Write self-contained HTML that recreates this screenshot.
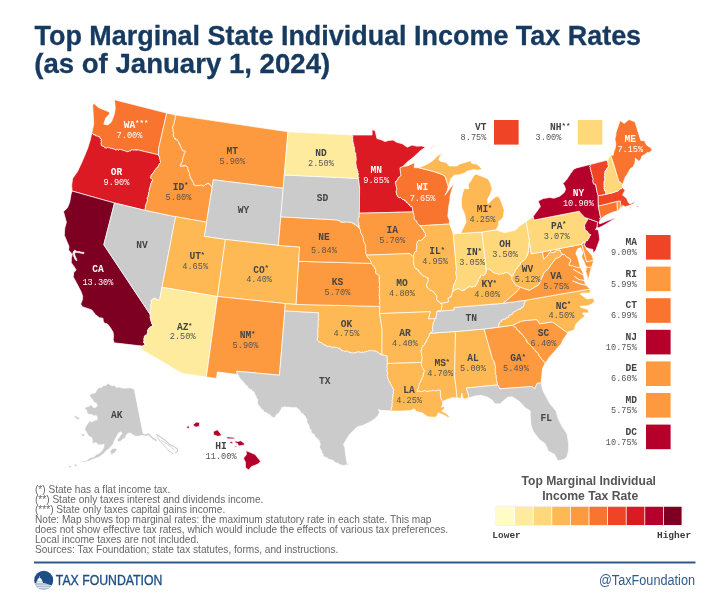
<!DOCTYPE html>
<html><head><meta charset="utf-8">
<style>
html,body{margin:0;padding:0;background:#fff;}
body{width:720px;height:600px;overflow:hidden;position:relative;font-family:"Liberation Sans",sans-serif;}
svg{position:absolute;left:0;top:0;will-change:transform;}
.ab{font-family:"Liberation Mono",monospace;font-weight:bold;font-size:9.6px;}
.rt{font-family:"Liberation Mono",monospace;font-size:8.6px;}
.st{font-family:"Liberation Mono",monospace;font-weight:bold;font-size:7.5px;}
.title{font-family:"Liberation Sans",sans-serif;font-weight:bold;font-size:28px;fill:#163a60;stroke:#163a60;stroke-width:0.3px;}
.note{font-family:"Liberation Sans",sans-serif;font-size:10.1px;fill:#666666;}
.lt{font-family:"Liberation Sans",sans-serif;font-weight:bold;font-size:13.6px;fill:#555555;}
.lh{font-family:"Liberation Mono",monospace;font-weight:bold;font-size:9.5px;fill:#3b3b3b;}
</style></head><body>
<svg width="720" height="600" viewBox="0 0 720 600">
<text class="title" x="34.5" y="45.0" textLength="606.6" lengthAdjust="spacingAndGlyphs">Top Marginal State Individual Income Tax Rates</text>
<text class="title" x="34.2" y="72.8" textLength="296" lengthAdjust="spacingAndGlyphs">(as of January 1, 2024)</text>
<g stroke="#fff" stroke-width="0.7" stroke-linejoin="round">
<path d="M114.2,99.7 166.7,113.1 158.6,148.7 158.5,154.8 138.4,150.1 137.9,149.6 137.2,150.5 136.6,149.6 135.9,150.6 135.4,149.4 134.8,149.5 134.1,150.5 133.5,150.0 133.0,149.6 132.3,150.0 131.6,149.7 131.0,150.5 130.4,151.2 129.7,150.6 129.1,151.4 128.4,151.5 127.8,151.8 127.2,151.5 126.5,151.8 126.1,151.1 125.5,151.1 124.9,150.9 124.3,150.6 123.7,150.7 123.2,150.4 122.6,150.2 122.2,149.6 121.5,149.9 120.9,149.6 120.3,149.5 119.7,149.3 119.0,150.0 118.3,150.4 117.8,149.5 117.1,149.5 116.5,149.9 115.8,150.1 115.2,149.8 114.8,149.1 114.1,149.4 113.5,149.1 113.0,148.5 112.2,148.9 111.7,148.3 110.9,148.7 110.3,148.5 109.9,147.6 109.3,147.6 108.7,147.8 108.1,147.4 107.5,147.4 106.8,147.8 106.2,148.2 105.6,148.0 104.8,148.1 104.4,147.3 103.9,147.0 103.5,146.2 102.8,146.1 102.0,146.3 101.6,145.5 101.1,145.2 101.0,144.4 100.9,143.6 100.9,142.8 101.6,141.8 100.8,141.1 101.0,140.3 101.3,139.4 100.7,138.9 100.0,138.5 99.8,137.4 99.5,136.6 98.8,136.7 98.1,136.8 97.7,136.1 97.2,135.9 96.5,136.0 96.0,135.6 95.3,135.8 95.1,134.6 94.4,134.9 93.7,135.0 93.4,134.1 92.8,133.9 92.3,133.6 91.7,133.5 92.7,128.6 93.7,124.2 93.3,115.8 92.6,105.4 93.7,103.3 98.9,107.8 104.4,109.9 109.3,112.0 109.7,113.7 105.8,117.9 103.8,124.2 107.9,124.9 111.4,122.1 114.2,114.4 115.2,108.9 114.9,103.3 114.2,99.7Z" fill="#f9742f"/>
<path d="M72.0,191.0 71.7,184.9 72.6,178.5 77.4,171.7 80.5,165.2 84.0,157.3 87.8,148.0 90.1,140.5 91.7,133.5 92.3,133.6 92.8,133.9 93.4,134.1 93.7,135.0 94.4,134.9 95.1,134.6 95.3,135.8 96.0,135.6 96.5,136.0 97.2,135.9 97.7,136.1 98.1,136.8 98.8,136.7 99.5,136.6 99.8,137.4 100.0,138.5 100.7,138.9 101.3,139.4 101.0,140.3 100.8,141.1 101.6,141.8 100.9,142.8 100.9,143.6 101.0,144.4 101.1,145.2 101.6,145.5 102.0,146.3 102.8,146.1 103.5,146.2 103.9,147.0 104.4,147.3 104.8,148.1 105.6,148.0 106.2,148.2 106.8,147.8 107.5,147.4 108.1,147.4 108.7,147.8 109.3,147.6 109.9,147.6 110.3,148.5 110.9,148.7 111.7,148.3 112.2,148.9 113.0,148.5 113.5,149.1 114.1,149.4 114.8,149.1 115.2,149.8 115.8,150.1 116.5,149.9 117.1,149.5 117.8,149.5 118.3,150.4 119.0,150.0 119.7,149.3 120.3,149.5 120.9,149.6 121.5,149.9 122.2,149.6 122.6,150.2 123.2,150.4 123.7,150.7 124.3,150.6 124.9,150.9 125.5,151.1 126.1,151.1 126.5,151.8 127.2,151.5 127.8,151.8 128.4,151.5 129.1,151.4 129.7,150.6 130.4,151.2 131.0,150.5 131.6,149.7 132.3,150.0 133.0,149.6 133.5,150.0 134.1,150.5 134.8,149.5 135.4,149.4 135.9,150.6 136.6,149.6 137.2,150.5 137.9,149.6 138.4,150.1 158.5,154.8 158.5,155.8 159.4,156.1 159.4,157.2 160.0,157.8 159.5,159.1 160.2,159.7 160.3,160.7 160.3,161.7 160.5,162.5 159.9,163.1 159.4,163.9 159.0,164.7 158.5,165.5 158.1,166.4 157.9,167.4 157.2,167.7 156.4,168.0 156.1,168.8 155.5,169.4 155.0,170.0 154.5,170.6 154.2,171.5 153.8,172.2 153.2,172.6 152.9,173.5 152.1,173.9 151.7,174.6 151.2,175.3 151.1,176.2 150.6,176.9 150.4,177.8 151.0,178.2 151.7,178.5 152.2,179.1 152.6,179.8 152.6,180.8 151.6,181.2 152.0,182.5 151.1,183.0 150.8,183.8 150.6,184.8 150.7,185.7 150.3,186.5 150.0,187.3 149.6,188.1 149.8,189.0 149.1,189.8 149.5,190.8 149.3,191.6 148.5,192.3 148.6,193.2 148.7,194.2 148.5,195.0 148.1,195.8 148.3,196.8 147.4,197.4 147.2,198.3 147.4,199.2 147.6,200.2 147.3,201.0 147.1,201.9 146.7,202.7 146.4,203.5 146.0,204.3 145.8,205.2 145.6,206.0 145.3,206.8 145.7,207.8 144.9,208.5 145.3,209.5 144.9,210.3 114.5,203.0 72.0,191.0Z" fill="#dc1a23"/>
<path d="M114.0,342.8 113.2,339.4 113.6,335.8 113.0,332.0 110.4,327.7 107.6,324.1 104.2,323.0 103.3,320.9 103.0,318.2 99.5,317.7 95.4,314.5 91.8,309.9 82.4,306.7 80.7,304.1 82.3,300.0 82.7,296.4 81.0,291.5 77.9,285.5 73.2,276.7 73.8,272.4 76.2,270.1 74.6,267.4 71.3,262.7 71.4,258.3 72.3,254.3 68.6,250.0 69.0,246.4 64.3,235.2 64.8,227.9 66.4,222.3 65.1,217.4 63.5,211.7 67.5,207.7 69.7,202.3 71.0,194.5 72.0,191.0 114.5,203.0 103.8,244.7 150.0,314.2 150.2,315.2 150.4,316.1 150.1,317.2 150.4,318.1 150.4,319.1 150.9,319.9 150.9,320.9 151.3,321.7 151.6,322.6 151.7,323.7 152.9,323.9 152.8,325.3 153.6,325.6 152.7,325.6 151.9,325.9 151.4,327.2 150.4,326.8 149.7,327.6 149.5,328.6 148.4,328.7 148.1,329.5 147.5,330.4 147.7,331.4 147.8,332.4 147.3,333.3 147.5,334.2 146.9,335.1 145.9,335.1 145.0,335.5 144.4,336.5 144.3,337.5 144.0,338.5 143.8,339.5 144.2,340.6 143.7,341.5 143.7,342.6 144.1,343.2 145.0,343.4 145.5,344.1 145.8,344.9 144.9,344.7 144.1,345.1 143.3,345.6 142.5,346.1 114.0,342.8Z" fill="#7d0023"/>
<path d="M114.5,203.0 144.9,210.3 175.6,216.7 162.0,287.3 159.8,298.7 159.1,299.7 158.3,300.5 157.6,300.2 157.2,299.4 156.3,299.8 155.8,299.2 155.5,298.1 154.6,298.3 153.8,298.3 153.2,299.3 152.4,299.4 151.6,299.9 151.1,300.8 151.2,301.8 151.7,302.8 151.4,303.7 150.6,304.6 150.8,305.6 150.6,306.5 151.0,307.4 150.4,308.3 150.4,309.2 150.3,310.1 150.4,311.0 150.4,311.9 150.0,312.8 150.0,314.2 103.8,244.7 114.5,203.0Z" fill="#cbcbcb"/>
<path d="M166.7,113.1 175.8,115.1 175.6,115.9 175.2,116.7 175.5,117.7 175.1,118.4 175.3,119.3 174.6,120.1 174.8,121.0 174.3,121.7 174.4,122.6 174.0,123.4 174.0,124.3 173.3,125.0 173.3,125.8 172.9,126.6 172.8,127.5 173.1,128.4 172.8,129.2 173.3,129.8 173.1,130.8 173.2,131.7 173.7,132.3 173.8,133.2 173.2,134.5 173.5,135.2 173.7,136.0 173.7,137.0 174.3,137.6 174.5,138.5 175.5,138.1 175.5,139.5 176.1,139.7 176.9,139.7 177.5,139.8 177.8,140.8 178.2,141.4 178.8,141.8 179.0,142.7 178.9,143.9 179.9,143.9 180.1,144.7 180.2,145.6 180.6,146.4 181.1,146.9 181.1,148.0 181.8,148.2 181.7,149.4 182.4,149.8 182.8,150.5 183.3,151.2 184.2,150.3 184.7,151.1 185.4,151.2 185.5,152.2 184.8,152.8 184.1,153.4 184.1,154.4 184.0,155.4 183.6,156.2 183.3,157.0 182.8,157.7 183.2,158.6 182.3,159.5 182.5,160.3 182.5,161.2 182.5,162.0 181.9,162.7 181.2,163.2 181.4,164.7 180.3,164.8 180.1,165.9 180.7,166.2 181.4,166.0 182.0,166.0 182.6,166.1 183.4,165.2 183.9,166.3 184.6,165.1 185.3,165.0 185.9,165.6 186.2,166.5 187.1,166.5 187.6,167.3 187.9,168.0 187.7,169.0 187.8,169.9 188.7,170.2 188.4,171.3 189.0,171.8 189.4,172.4 189.4,173.4 189.6,174.2 189.7,175.0 189.9,175.8 190.3,176.5 190.3,177.5 190.6,178.2 191.3,178.5 191.6,179.4 191.7,180.2 192.6,180.4 192.9,181.2 193.0,182.1 193.2,182.9 193.8,183.5 193.7,184.5 194.0,185.2 194.7,184.9 195.3,185.3 195.9,185.7 196.6,185.4 197.2,185.9 198.0,185.2 198.6,185.3 199.2,185.9 199.9,184.9 200.5,185.0 201.1,185.1 201.8,184.9 202.4,185.2 202.9,186.0 203.5,186.1 204.2,185.5 204.8,185.2 205.4,184.5 206.0,184.5 206.7,184.2 207.1,183.2 208.0,184.0 208.4,183.0 209.1,183.3 209.2,184.3 209.8,184.6 210.5,184.8 210.6,185.9 211.3,186.0 211.7,186.6 212.2,187.1 206.6,222.2 175.6,216.7 144.9,210.3 145.3,209.5 144.9,208.5 145.7,207.8 145.3,206.8 145.6,206.0 145.8,205.2 146.0,204.3 146.4,203.5 146.7,202.7 147.1,201.9 147.3,201.0 147.6,200.2 147.4,199.2 147.2,198.3 147.4,197.4 148.3,196.8 148.1,195.8 148.5,195.0 148.7,194.2 148.6,193.2 148.5,192.3 149.3,191.6 149.5,190.8 149.1,189.8 149.8,189.0 149.6,188.1 150.0,187.3 150.3,186.5 150.7,185.7 150.6,184.8 150.8,183.8 151.1,183.0 152.0,182.5 151.6,181.2 152.6,180.8 152.6,179.8 152.2,179.1 151.7,178.5 151.0,178.2 150.4,177.8 150.6,176.9 151.1,176.2 151.2,175.3 151.7,174.6 152.1,173.9 152.9,173.5 153.2,172.6 153.8,172.2 154.2,171.5 154.5,170.6 155.0,170.0 155.5,169.4 156.1,168.8 156.4,168.0 157.2,167.7 157.9,167.4 158.1,166.4 158.5,165.5 159.0,164.7 159.4,163.9 159.9,163.1 160.5,162.5 160.3,161.7 160.3,160.7 160.2,159.7 159.5,159.1 160.0,157.8 159.4,157.2 159.4,156.1 158.5,155.8 158.5,154.8 158.6,148.7 166.7,113.1Z" fill="#fd9a3f"/>
<path d="M175.8,115.1 288.0,131.8 284.3,175.0 283.2,188.3 213.3,179.8 212.2,187.1 211.7,186.6 211.3,186.0 210.6,185.9 210.5,184.8 209.8,184.6 209.2,184.3 209.1,183.3 208.4,183.0 208.0,184.0 207.1,183.2 206.7,184.2 206.0,184.5 205.4,184.5 204.8,185.2 204.2,185.5 203.5,186.1 202.9,186.0 202.4,185.2 201.8,184.9 201.1,185.1 200.5,185.0 199.9,184.9 199.2,185.9 198.6,185.3 198.0,185.2 197.2,185.9 196.6,185.4 195.9,185.7 195.3,185.3 194.7,184.9 194.0,185.2 193.7,184.5 193.8,183.5 193.2,182.9 193.0,182.1 192.9,181.2 192.6,180.4 191.7,180.2 191.6,179.4 191.3,178.5 190.6,178.2 190.3,177.5 190.3,176.5 189.9,175.8 189.7,175.0 189.6,174.2 189.4,173.4 189.4,172.4 189.0,171.8 188.4,171.3 188.7,170.2 187.8,169.9 187.7,169.0 187.9,168.0 187.6,167.3 187.1,166.5 186.2,166.5 185.9,165.6 185.3,165.0 184.6,165.1 183.9,166.3 183.4,165.2 182.6,166.1 182.0,166.0 181.4,166.0 180.7,166.2 180.1,165.9 180.3,164.8 181.4,164.7 181.2,163.2 181.9,162.7 182.5,162.0 182.5,161.2 182.5,160.3 182.3,159.5 183.2,158.6 182.8,157.7 183.3,157.0 183.6,156.2 184.0,155.4 184.1,154.4 184.1,153.4 184.8,152.8 185.5,152.2 185.4,151.2 184.7,151.1 184.2,150.3 183.3,151.2 182.8,150.5 182.4,149.8 181.7,149.4 181.8,148.2 181.1,148.0 181.1,146.9 180.6,146.4 180.2,145.6 180.1,144.7 179.9,143.9 178.9,143.9 179.0,142.7 178.8,141.8 178.2,141.4 177.8,140.8 177.5,139.8 176.9,139.7 176.1,139.7 175.5,139.5 175.5,138.1 174.5,138.5 174.3,137.6 173.7,137.0 173.7,136.0 173.5,135.2 173.2,134.5 173.8,133.2 173.7,132.3 173.2,131.7 173.1,130.8 173.3,129.8 172.8,129.2 173.1,128.4 172.8,127.5 172.9,126.6 173.3,125.8 173.3,125.0 174.0,124.3 174.0,123.4 174.4,122.6 174.3,121.7 174.8,121.0 174.6,120.1 175.3,119.3 175.1,118.4 175.5,117.7 175.2,116.7 175.6,115.9 175.8,115.1Z" fill="#fd9a3f"/>
<path d="M212.2,187.1 213.3,179.8 283.2,188.3 280.8,216.8 278.4,245.4 225.4,239.5 204.3,236.4 206.6,222.2 212.2,187.1Z" fill="#cbcbcb"/>
<path d="M175.6,216.7 206.6,222.2 204.3,236.4 225.4,239.5 217.5,296.5 162.0,287.3 175.6,216.7Z" fill="#feb954"/>
<path d="M162.0,287.3 217.5,296.5 206.4,377.0 182.2,373.4 140.8,349.1 142.5,346.1 143.3,345.6 144.1,345.1 144.9,344.7 145.8,344.9 145.5,344.1 145.0,343.4 144.1,343.2 143.7,342.6 143.7,341.5 144.2,340.6 143.8,339.5 144.0,338.5 144.3,337.5 144.4,336.5 145.0,335.5 145.9,335.1 146.9,335.1 147.5,334.2 147.3,333.3 147.8,332.4 147.7,331.4 147.5,330.4 148.1,329.5 148.4,328.7 149.5,328.6 149.7,327.6 150.4,326.8 151.4,327.2 151.9,325.9 152.7,325.6 153.6,325.6 152.8,325.3 152.9,323.9 151.7,323.7 151.6,322.6 151.3,321.7 150.9,320.9 150.9,319.9 150.4,319.1 150.4,318.1 150.1,317.2 150.4,316.1 150.2,315.2 150.0,314.2 150.0,312.8 150.4,311.9 150.4,311.0 150.3,310.1 150.4,309.2 150.4,308.3 151.0,307.4 150.6,306.5 150.8,305.6 150.6,304.6 151.4,303.7 151.7,302.8 151.2,301.8 151.1,300.8 151.6,299.9 152.4,299.4 153.2,299.3 153.8,298.3 154.6,298.3 155.5,298.1 155.8,299.2 156.3,299.8 157.2,299.4 157.6,300.2 158.3,300.5 159.1,299.7 159.8,298.7 162.0,287.3Z" fill="#feeb9e"/>
<path d="M225.4,239.5 278.4,245.4 299.6,247.0 298.7,261.3 296.1,304.4 285.3,303.6 217.5,296.5 225.4,239.5Z" fill="#feb954"/>
<path d="M217.5,296.5 285.3,303.6 284.8,310.8 279.5,375.2 236.7,371.2 237.4,374.4 217.3,372.0 216.5,378.4 206.4,377.0 217.5,296.5Z" fill="#fd9a3f"/>
<path d="M237.4,374.4 236.7,371.2 279.5,375.2 284.8,310.8 318.7,312.8 318.4,313.6 318.6,314.5 318.8,315.4 318.6,316.2 318.1,317.1 318.6,318.0 318.9,318.9 318.7,319.7 318.2,320.6 318.6,321.5 318.0,322.3 318.1,323.2 318.6,324.1 317.8,324.9 318.6,325.8 318.2,326.7 318.3,327.6 317.6,328.4 317.7,329.3 318.3,330.2 317.7,331.0 317.9,331.9 317.8,332.8 317.7,333.7 318.2,334.5 317.6,335.4 318.2,336.3 317.8,337.1 318.0,338.0 317.2,338.9 317.3,339.7 317.6,340.6 318.2,341.0 318.7,341.7 319.5,341.8 320.0,342.5 320.9,342.4 321.6,342.6 322.1,343.4 322.7,343.8 323.4,344.1 324.1,344.5 324.6,345.0 325.5,344.7 325.9,345.7 326.7,345.8 327.4,346.2 328.1,346.7 329.0,345.7 329.6,346.4 330.4,346.0 331.1,346.8 331.8,347.3 332.6,347.3 333.4,346.9 334.1,347.1 334.8,347.1 335.6,347.5 336.3,347.7 337.2,347.3 337.9,348.1 338.6,348.4 339.5,347.9 340.1,348.6 340.6,349.5 341.2,350.1 342.0,350.0 342.7,351.0 343.6,350.5 344.3,351.1 345.0,351.4 345.9,350.9 346.8,350.9 347.6,350.8 348.4,351.5 349.1,352.4 350.0,352.1 350.8,352.1 351.4,353.0 352.3,352.4 352.9,353.2 353.6,353.1 354.2,352.4 355.0,352.7 355.7,352.6 356.4,352.3 357.0,351.8 357.7,351.6 358.4,352.1 359.2,351.3 359.8,352.2 360.5,352.3 361.2,352.4 362.0,352.1 362.7,351.7 363.4,352.5 364.1,352.1 364.8,351.5 365.6,351.7 366.3,351.1 367.1,351.3 367.9,351.3 368.5,350.6 369.4,350.6 370.1,350.3 370.8,351.1 371.5,350.5 372.2,350.5 372.9,350.7 373.7,350.7 374.4,351.4 375.1,350.3 375.8,351.0 376.4,351.7 377.4,351.4 377.7,352.6 378.5,352.7 379.1,353.4 379.8,353.7 380.7,353.5 381.1,354.7 382.0,354.7 387.2,355.9 387.3,363.5 387.3,364.3 387.2,365.2 387.2,366.1 387.1,366.9 387.0,367.8 387.5,368.7 387.0,369.5 387.1,370.4 387.1,371.3 387.6,372.1 387.9,373.0 387.2,373.9 387.2,374.7 387.2,375.6 387.6,376.5 387.4,377.3 387.6,378.2 388.5,378.7 388.8,379.5 388.6,380.7 389.1,381.4 390.1,381.8 390.2,382.8 390.4,383.7 390.9,384.4 391.5,385.0 391.7,385.9 392.2,386.6 392.8,387.3 392.5,388.5 393.4,388.9 393.8,389.6 393.8,390.6 393.3,391.5 393.7,392.5 393.5,393.3 393.1,394.1 392.9,395.0 393.2,395.9 393.0,396.8 392.5,397.5 392.8,398.5 392.6,399.3 392.3,400.1 392.0,401.1 392.6,402.0 392.5,403.0 391.9,403.9 392.3,404.9 392.1,405.8 392.3,406.8 391.3,407.4 391.4,408.4 391.8,409.5 390.6,410.0 390.8,411.0 386.0,410.5 381.5,410.5 378.5,409.5 379.8,412.5 378.0,415.5 374.0,419.5 369.0,422.5 362.0,425.8 358.0,426.5 355.5,428.5 352.5,431.5 349.5,434.5 347.5,437.5 345.5,441.0 343.5,444.5 345.0,448.0 345.3,452.0 346.0,457.0 347.2,463.3 349.2,464.2 348.4,464.7 347.6,465.0 346.6,464.4 345.9,464.9 345.1,465.3 344.2,465.4 343.4,465.6 342.5,465.6 341.9,464.7 340.9,465.2 340.2,464.6 339.3,464.6 338.7,463.8 338.0,463.5 337.4,462.7 336.2,463.5 335.7,462.6 335.1,462.0 334.0,462.1 333.7,460.8 333.0,460.4 332.2,460.1 331.3,460.0 330.6,459.6 329.7,459.6 328.9,459.3 328.1,458.9 327.5,457.9 326.6,457.8 325.9,457.1 324.8,457.5 324.2,456.6 323.5,456.1 323.1,455.3 323.3,454.0 322.1,453.8 321.9,452.8 321.6,452.0 321.7,450.8 320.8,450.4 320.9,449.2 320.0,448.7 319.6,447.8 319.4,447.0 319.8,446.0 320.1,445.1 320.2,444.2 320.3,443.3 319.2,442.5 319.7,441.6 319.3,440.7 318.2,440.7 318.3,439.4 317.4,439.2 317.0,438.4 316.3,437.9 315.8,437.2 315.0,436.9 315.0,435.7 314.1,435.4 314.2,434.2 313.3,433.9 312.4,433.6 311.9,433.0 311.3,432.4 311.2,431.3 311.3,430.2 310.5,429.7 309.6,429.2 309.8,428.0 309.1,427.4 309.2,426.3 309.0,425.4 308.4,424.7 307.8,424.0 307.6,423.2 306.9,422.5 306.9,421.7 307.0,420.7 306.6,419.9 306.9,418.9 306.2,418.3 305.5,417.8 305.5,416.7 304.9,416.1 304.5,415.5 303.7,415.1 303.3,414.4 303.0,413.4 301.8,413.5 301.2,412.9 300.6,412.3 300.4,411.2 299.8,410.7 299.4,409.8 298.7,409.3 297.8,409.1 297.4,408.3 296.6,407.6 295.8,407.6 295.0,407.4 294.1,407.9 293.3,407.4 292.5,407.5 291.7,408.0 291.0,407.1 290.3,407.4 289.5,407.4 288.8,406.8 288.0,407.6 287.3,406.9 286.6,407.3 285.8,407.0 285.1,407.1 284.2,406.6 283.6,407.7 282.7,407.3 282.0,407.6 281.2,408.1 281.5,409.4 280.7,409.9 280.2,410.6 279.8,411.4 279.5,412.3 279.1,413.1 278.3,413.3 277.6,413.9 276.9,414.3 276.4,415.0 275.8,415.7 275.4,416.5 274.8,417.2 274.4,418.0 273.6,417.6 272.8,417.3 272.0,417.2 271.4,416.4 270.8,415.8 270.3,414.9 269.5,414.5 268.5,414.7 268.1,413.6 267.2,413.6 266.3,413.5 266.1,412.1 265.1,412.3 264.2,412.2 263.6,411.7 263.4,410.3 262.5,410.3 262.2,409.3 261.2,409.2 260.8,408.4 260.5,407.4 259.9,406.7 259.5,405.9 258.6,405.7 258.1,404.8 257.8,403.9 257.5,403.0 257.6,402.0 257.3,401.1 257.7,400.0 257.3,399.1 256.9,398.4 256.4,397.8 256.2,396.9 256.1,396.0 255.5,395.5 254.9,394.9 255.1,393.8 254.3,393.3 254.2,392.4 253.8,391.5 252.8,391.8 252.3,391.1 251.8,390.3 251.4,389.4 250.2,389.9 249.8,388.9 249.1,388.6 248.4,388.2 248.0,387.5 247.4,386.9 247.2,385.9 246.1,385.9 245.9,384.9 245.2,384.5 244.5,384.0 244.4,382.9 243.4,382.8 242.9,382.1 242.9,380.9 242.0,380.7 241.1,380.5 240.9,379.5 240.4,378.8 239.7,378.3 239.5,377.2 238.7,376.8 238.6,375.7 238.2,374.9 237.4,374.4Z" fill="#cbcbcb"/>
<path d="M285.3,303.6 296.1,304.4 379.6,306.4 379.7,313.6 382.1,329.5 382.0,354.7 381.1,354.7 380.7,353.5 379.8,353.7 379.1,353.4 378.5,352.7 377.7,352.6 377.4,351.4 376.4,351.7 375.8,351.0 375.1,350.3 374.4,351.4 373.7,350.7 372.9,350.7 372.2,350.5 371.5,350.5 370.8,351.1 370.1,350.3 369.4,350.6 368.5,350.6 367.9,351.3 367.1,351.3 366.3,351.1 365.6,351.7 364.8,351.5 364.1,352.1 363.4,352.5 362.7,351.7 362.0,352.1 361.2,352.4 360.5,352.3 359.8,352.2 359.2,351.3 358.4,352.1 357.7,351.6 357.0,351.8 356.4,352.3 355.7,352.6 355.0,352.7 354.2,352.4 353.6,353.1 352.9,353.2 352.3,352.4 351.4,353.0 350.8,352.1 350.0,352.1 349.1,352.4 348.4,351.5 347.6,350.8 346.8,350.9 345.9,350.9 345.0,351.4 344.3,351.1 343.6,350.5 342.7,351.0 342.0,350.0 341.2,350.1 340.6,349.5 340.1,348.6 339.5,347.9 338.6,348.4 337.9,348.1 337.2,347.3 336.3,347.7 335.6,347.5 334.8,347.1 334.1,347.1 333.4,346.9 332.6,347.3 331.8,347.3 331.1,346.8 330.4,346.0 329.6,346.4 329.0,345.7 328.1,346.7 327.4,346.2 326.7,345.8 325.9,345.7 325.5,344.7 324.6,345.0 324.1,344.5 323.4,344.1 322.7,343.8 322.1,343.4 321.6,342.6 320.9,342.4 320.0,342.5 319.5,341.8 318.7,341.7 318.2,341.0 317.6,340.6 317.3,339.7 317.2,338.9 318.0,338.0 317.8,337.1 318.2,336.3 317.6,335.4 318.2,334.5 317.7,333.7 317.8,332.8 317.9,331.9 317.7,331.0 318.3,330.2 317.7,329.3 317.6,328.4 318.3,327.6 318.2,326.7 318.6,325.8 317.8,324.9 318.6,324.1 318.1,323.2 318.0,322.3 318.6,321.5 318.2,320.6 318.7,319.7 318.9,318.9 318.6,318.0 318.1,317.1 318.6,316.2 318.8,315.4 318.6,314.5 318.4,313.6 318.7,312.8 284.8,310.8 285.3,303.6Z" fill="#feb954"/>
<path d="M296.1,304.4 298.7,261.3 371.5,263.4 372.0,264.2 372.4,265.2 373.2,265.6 373.8,266.2 374.3,267.0 374.4,268.2 375.4,268.6 375.5,269.8 375.9,270.6 375.6,271.6 375.6,272.6 376.1,273.4 376.6,274.1 377.6,274.0 378.3,274.6 378.8,275.3 379.3,276.2 379.0,277.1 379.6,277.9 379.0,278.8 379.4,279.7 379.4,280.5 379.2,281.4 379.5,282.3 379.3,283.1 379.8,284.0 379.8,284.8 379.5,285.7 379.2,286.6 379.2,287.4 379.8,288.3 379.6,289.2 379.2,290.0 379.8,290.9 379.2,291.8 379.6,292.6 379.4,293.5 379.1,294.3 379.2,295.2 379.3,296.1 379.7,296.9 379.3,297.8 379.9,298.7 379.4,299.5 380.0,300.4 379.9,301.2 379.7,302.1 379.3,303.0 379.5,303.8 380.1,304.7 379.9,305.6 379.6,306.4 296.1,304.4Z" fill="#fd9a3f"/>
<path d="M278.4,245.4 280.8,216.8 338.2,220.0 338.6,220.8 339.3,220.8 340.0,220.7 340.5,221.4 340.9,222.2 341.8,221.6 342.3,222.2 342.9,222.8 343.6,221.9 344.2,222.2 344.9,221.9 345.5,222.0 346.2,221.8 346.8,221.7 347.5,222.4 348.2,222.2 348.9,221.8 349.5,222.2 350.2,222.1 350.9,222.9 351.6,222.4 352.3,222.5 352.8,223.1 353.2,223.9 354.1,223.3 354.4,224.5 355.0,224.9 355.7,224.7 356.3,225.2 357.0,225.5 357.4,226.4 358.3,226.2 358.5,227.7 359.4,227.6 359.6,228.9 360.4,229.6 360.6,230.5 360.5,231.5 360.7,232.4 360.9,233.2 361.6,233.7 361.8,234.6 362.2,235.3 362.9,235.8 363.0,236.8 363.0,237.8 363.5,238.6 363.4,239.5 363.5,240.4 363.7,241.5 364.3,242.2 364.7,243.0 364.8,244.1 365.5,244.7 365.4,245.7 366.0,246.7 365.3,247.8 365.5,248.7 365.7,249.7 366.2,250.5 365.9,251.5 365.7,252.5 365.9,253.4 366.6,254.1 366.5,255.1 367.1,255.6 367.2,256.8 367.8,257.3 368.3,258.0 368.7,258.7 369.5,259.1 369.9,259.9 370.5,260.6 370.9,261.5 371.2,262.4 371.5,263.4 298.7,261.3 299.6,247.0 278.4,245.4Z" fill="#fd9a3f"/>
<path d="M284.3,175.0 358.5,178.4 359.6,187.5 359.4,213.2 359.1,214.1 359.0,215.1 359.4,216.0 359.2,217.0 358.8,217.8 358.3,218.6 358.1,219.6 358.4,220.4 358.1,221.4 358.4,222.2 359.0,223.0 358.9,223.9 358.6,225.0 359.6,225.7 359.2,226.7 359.4,227.6 358.5,227.7 358.3,226.2 357.4,226.4 357.0,225.5 356.3,225.2 355.7,224.7 355.0,224.9 354.4,224.5 354.1,223.3 353.2,223.9 352.8,223.1 352.3,222.5 351.6,222.4 350.9,222.9 350.2,222.1 349.5,222.2 348.9,221.8 348.2,222.2 347.5,222.4 346.8,221.7 346.2,221.8 345.5,222.0 344.9,221.9 344.2,222.2 343.6,221.9 342.9,222.8 342.3,222.2 341.8,221.6 340.9,222.2 340.5,221.4 340.0,220.7 339.3,220.8 338.6,220.8 338.2,220.0 280.8,216.8 283.2,188.3 284.3,175.0Z" fill="#cbcbcb"/>
<path d="M288.0,131.8 352.4,135.0 352.7,135.8 352.9,136.7 352.7,137.6 352.8,138.5 352.8,139.4 353.1,140.2 352.6,141.2 353.1,142.0 353.4,142.9 353.1,144.0 354.0,144.5 353.7,145.6 354.1,146.4 354.5,147.2 354.7,148.1 354.5,149.1 354.9,149.8 354.6,150.8 354.8,151.7 355.1,152.4 355.8,153.0 355.8,153.9 355.9,154.8 355.8,155.7 356.1,156.6 356.1,157.5 356.3,158.4 356.2,159.3 356.3,160.2 355.9,161.1 355.9,162.0 355.9,162.9 355.8,163.8 356.3,164.7 356.2,165.7 356.6,166.4 356.5,167.4 356.8,168.2 357.2,168.9 357.4,169.8 357.5,170.7 358.0,171.4 357.8,172.5 358.2,173.2 358.6,174.0 358.3,174.9 358.2,175.8 358.3,176.7 358.9,177.4 358.5,178.4 284.3,175.0 288.0,131.8Z" fill="#feeb9e"/>
<path d="M352.4,135.0 372.1,135.0 372.1,129.7 375.1,130.5 376.9,138.5 381.2,139.8 385.0,141.6 388.8,140.4 393.1,140.0 396.5,142.2 402.3,143.8 407.3,147.2 412.0,145.1 416.8,146.2 421.6,145.9 425.5,147.1 420.0,151.0 413.6,157.0 407.0,162.3 402.8,166.6 402.2,166.5 401.7,167.6 401.0,167.1 400.5,167.3 400.1,168.2 400.2,169.2 400.3,170.1 400.2,171.0 400.7,171.9 400.3,172.9 400.9,173.8 401.0,174.7 400.8,175.7 400.2,176.0 399.9,176.8 399.2,176.9 398.9,177.8 398.2,177.8 398.0,178.9 397.6,179.6 397.2,180.2 396.7,180.6 396.4,181.4 395.7,181.5 395.1,182.0 395.6,182.7 395.3,183.8 396.0,184.4 396.0,185.4 396.1,186.2 396.6,186.9 396.6,187.8 396.9,188.7 396.9,189.6 396.5,190.4 396.2,191.3 396.3,192.1 396.4,193.0 396.7,193.9 396.4,194.8 397.1,194.8 397.6,195.5 397.9,196.6 398.4,197.3 399.2,197.2 399.7,197.9 400.5,197.2 401.0,198.0 401.5,198.6 402.1,198.9 402.6,199.2 403.2,199.8 403.9,199.5 404.5,199.8 404.7,200.8 405.5,200.8 406.2,201.1 406.3,202.4 407.2,202.3 407.7,202.9 408.1,203.6 408.5,204.3 409.3,204.4 409.7,205.3 410.2,206.0 410.8,206.7 411.8,206.3 412.2,207.3 412.6,208.1 412.6,209.1 412.6,210.2 413.1,211.0 413.2,211.9 359.4,213.2 359.6,187.5 358.5,178.4 358.9,177.4 358.3,176.7 358.2,175.8 358.3,174.9 358.6,174.0 358.2,173.2 357.8,172.5 358.0,171.4 357.5,170.7 357.4,169.8 357.2,168.9 356.8,168.2 356.5,167.4 356.6,166.4 356.2,165.7 356.3,164.7 355.8,163.8 355.9,162.9 355.9,162.0 355.9,161.1 356.3,160.2 356.2,159.3 356.3,158.4 356.1,157.5 356.1,156.6 355.8,155.7 355.9,154.8 355.8,153.9 355.8,153.0 355.1,152.4 354.8,151.7 354.6,150.8 354.9,149.8 354.5,149.1 354.7,148.1 354.5,147.2 354.1,146.4 353.7,145.6 354.0,144.5 353.1,144.0 353.4,142.9 353.1,142.0 352.6,141.2 353.1,140.2 352.8,139.4 352.8,138.5 352.7,137.6 352.9,136.7 352.7,135.8 352.4,135.0Z" fill="#dc1a23"/>
<path d="M359.4,213.2 413.2,211.9 413.2,212.9 413.8,213.7 413.6,214.7 414.1,215.5 414.3,216.4 414.1,217.4 414.3,218.3 414.4,219.4 414.9,220.1 415.8,220.3 416.5,220.7 417.0,221.4 416.9,222.9 417.6,223.2 418.1,224.0 418.6,224.8 419.5,224.9 420.0,225.8 420.3,226.7 421.2,226.5 421.7,227.1 421.7,228.4 422.4,228.7 423.1,229.1 423.4,229.9 423.7,230.8 424.0,231.6 424.4,232.3 424.9,233.0 425.5,233.5 425.2,234.4 425.7,235.5 425.2,236.4 424.8,237.1 424.0,237.3 423.7,238.1 423.2,238.7 422.7,239.4 422.0,239.5 421.5,240.1 420.8,240.5 420.1,240.6 419.3,240.2 418.6,240.4 418.1,241.1 417.3,241.7 417.2,242.8 416.8,243.7 416.7,244.8 416.7,245.8 416.9,246.7 416.7,247.7 416.9,248.7 416.0,249.5 416.4,250.5 416.1,251.7 415.2,251.7 414.6,252.3 414.1,253.1 414.2,254.1 413.7,254.9 413.5,255.8 413.3,256.7 409.8,253.6 366.5,255.1 366.6,254.1 365.9,253.4 365.7,252.5 365.9,251.5 366.2,250.5 365.7,249.7 365.5,248.7 365.3,247.8 366.0,246.7 365.4,245.7 365.5,244.7 364.8,244.1 364.7,243.0 364.3,242.2 363.7,241.5 363.5,240.4 363.4,239.5 363.5,238.6 363.0,237.8 363.0,236.8 362.9,235.8 362.2,235.3 361.8,234.6 361.6,233.7 360.9,233.2 360.7,232.4 360.5,231.5 360.6,230.5 360.4,229.6 359.6,228.9 359.4,227.6 359.2,226.7 359.6,225.7 358.6,225.0 358.9,223.9 359.0,223.0 358.4,222.2 358.1,221.4 358.4,220.4 358.1,219.6 358.3,218.6 358.8,217.8 359.2,217.0 359.4,216.0 359.0,215.1 359.1,214.1 359.4,213.2Z" fill="#fd9a3f"/>
<path d="M366.5,255.1 409.8,253.6 413.3,256.7 413.6,257.6 413.7,258.5 413.5,259.4 413.4,260.4 413.6,261.3 413.5,262.2 413.7,263.1 413.9,263.9 413.7,264.9 414.5,265.5 414.4,266.5 414.8,267.5 415.4,268.0 415.9,268.7 416.9,268.5 417.2,269.7 418.0,269.9 418.8,270.1 418.8,271.4 419.2,272.1 419.9,272.4 420.6,272.8 420.8,273.8 421.7,273.9 422.1,274.7 422.7,275.5 423.5,276.0 424.4,276.0 425.1,276.4 425.8,276.9 426.5,277.4 427.4,277.2 427.8,278.5 428.7,278.4 428.0,279.1 428.3,280.2 428.1,281.1 427.9,282.1 427.2,282.8 427.0,283.8 426.9,284.8 426.5,285.6 426.6,286.7 427.4,286.9 427.8,287.9 428.5,288.4 429.0,289.1 429.6,289.8 430.2,290.4 431.1,290.2 431.9,290.8 432.7,291.4 433.4,291.6 434.0,292.2 434.3,293.1 435.0,293.4 435.5,294.0 435.9,294.9 436.4,295.4 436.6,296.5 437.0,297.5 436.5,298.6 436.7,299.6 437.3,300.2 437.7,301.2 438.6,301.1 439.1,302.0 439.8,302.4 440.4,302.8 440.8,303.8 441.8,304.4 442.3,305.3 441.9,306.3 442.0,307.2 441.4,307.9 441.8,309.2 441.2,310.0 440.5,310.5 439.8,311.0 438.9,310.8 438.3,311.6 437.4,311.2 436.7,311.9 436.7,312.9 436.7,314.0 436.8,315.0 436.2,315.8 436.2,316.7 436.1,317.6 435.9,318.5 428.3,319.0 430.4,311.7 379.7,313.6 379.6,306.4 379.9,305.6 380.1,304.7 379.5,303.8 379.3,303.0 379.7,302.1 379.9,301.2 380.0,300.4 379.4,299.5 379.9,298.7 379.3,297.8 379.7,296.9 379.3,296.1 379.2,295.2 379.1,294.3 379.4,293.5 379.6,292.6 379.2,291.8 379.8,290.9 379.2,290.0 379.6,289.2 379.8,288.3 379.2,287.4 379.2,286.6 379.5,285.7 379.8,284.8 379.8,284.0 379.3,283.1 379.5,282.3 379.2,281.4 379.4,280.5 379.4,279.7 379.0,278.8 379.6,277.9 379.0,277.1 379.3,276.2 378.8,275.3 378.3,274.6 377.6,274.0 376.6,274.1 376.1,273.4 375.6,272.6 375.6,271.6 375.9,270.6 375.5,269.8 375.4,268.6 374.4,268.2 374.3,267.0 373.8,266.2 373.2,265.6 372.4,265.2 372.0,264.2 371.5,263.4 371.2,262.4 370.9,261.5 370.5,260.6 369.9,259.9 369.5,259.1 368.7,258.7 368.3,258.0 367.8,257.3 367.2,256.8 367.1,255.6 366.5,255.1Z" fill="#feb954"/>
<path d="M379.7,313.6 430.4,311.7 428.3,319.0 435.9,318.5 435.3,319.1 434.6,319.6 434.4,320.6 434.2,321.6 433.6,322.1 433.3,323.0 433.0,323.9 433.4,324.8 432.8,325.6 432.5,326.5 432.6,327.4 432.3,328.3 432.7,329.2 432.9,330.2 432.5,331.0 431.9,331.6 431.5,332.6 430.5,332.5 430.0,333.3 429.3,333.9 429.4,334.9 429.2,335.8 428.9,336.6 428.4,337.2 428.3,338.1 427.5,338.6 427.1,339.3 427.0,340.2 426.8,341.3 425.9,341.5 425.9,342.8 425.0,343.0 424.8,344.0 424.4,344.9 423.9,345.6 422.7,345.6 422.6,346.7 422.1,347.4 421.5,348.2 422.1,349.5 421.1,350.0 421.0,351.1 421.2,352.0 421.4,353.0 422.1,353.7 421.6,354.9 421.8,355.9 422.3,356.7 422.1,357.7 422.6,358.8 421.5,359.5 422.1,360.6 421.5,361.5 421.6,362.5 387.3,363.5 387.2,355.9 382.0,354.7 382.1,329.5 379.7,313.6Z" fill="#feb954"/>
<path d="M387.3,363.5 421.6,362.5 422.1,363.5 421.4,364.4 421.4,365.4 422.0,366.0 422.1,367.0 422.5,367.8 423.1,368.4 423.4,369.3 424.1,369.8 424.1,370.9 424.5,371.7 423.8,372.3 423.6,373.2 423.3,374.0 423.3,375.0 423.2,375.9 422.9,376.8 422.3,377.4 422.0,378.3 422.1,379.5 421.1,379.8 420.7,380.6 420.8,381.8 420.1,382.4 419.7,383.2 419.1,383.9 419.3,384.9 418.9,385.7 418.8,386.5 418.7,387.4 418.3,388.2 418.3,389.1 417.4,389.6 417.8,390.7 417.2,391.4 418.0,390.8 418.7,391.4 419.5,390.8 420.2,391.1 421.0,391.7 421.7,391.5 422.5,391.4 423.2,391.3 423.9,390.5 424.7,390.6 425.4,390.7 426.2,391.2 427.0,391.4 427.7,391.1 428.4,391.2 429.2,391.2 429.9,390.8 430.6,390.4 431.4,390.9 432.2,390.8 432.9,390.1 433.6,390.3 434.4,390.5 435.2,390.9 435.9,391.0 436.6,389.9 437.4,390.7 438.1,389.9 438.8,390.1 439.6,390.1 440.3,390.1 440.6,397.2 442.7,401.7 442.4,404.8 441.5,407.1 445.0,406.0 443.8,409.4 441.5,411.1 444.9,412.8 447.2,414.5 450.0,416.8 447.8,417.3 443.8,415.0 438.1,412.8 437.0,416.2 434.7,417.3 427.9,416.8 424.4,414.5 422.2,412.8 416.5,411.6 414.2,408.8 410.8,410.5 401.7,411.1 390.8,411.0 390.6,410.0 391.8,409.5 391.4,408.4 391.3,407.4 392.3,406.8 392.1,405.8 392.3,404.9 391.9,403.9 392.5,403.0 392.6,402.0 392.0,401.1 392.3,400.1 392.6,399.3 392.8,398.5 392.5,397.5 393.0,396.8 393.2,395.9 392.9,395.0 393.1,394.1 393.5,393.3 393.7,392.5 393.3,391.5 393.8,390.6 393.8,389.6 393.4,388.9 392.5,388.5 392.8,387.3 392.2,386.6 391.7,385.9 391.5,385.0 390.9,384.4 390.4,383.7 390.2,382.8 390.1,381.8 389.1,381.4 388.6,380.7 388.8,379.5 388.5,378.7 387.6,378.2 387.4,377.3 387.6,376.5 387.2,375.6 387.2,374.7 387.2,373.9 387.9,373.0 387.6,372.1 387.1,371.3 387.1,370.4 387.0,369.5 387.5,368.7 387.0,367.8 387.1,366.9 387.2,366.1 387.2,365.2 387.3,364.3 387.3,363.5Z" fill="#feb954"/>
<path d="M430.0,333.3 429.3,333.9 429.4,334.9 429.2,335.8 428.9,336.6 428.4,337.2 428.3,338.1 427.5,338.6 427.1,339.3 427.0,340.2 426.8,341.3 425.9,341.5 425.9,342.8 425.0,343.0 424.8,344.0 424.4,344.9 423.9,345.6 422.7,345.6 422.6,346.7 422.1,347.4 421.5,348.2 422.1,349.5 421.1,350.0 421.0,351.1 421.2,352.0 421.4,353.0 422.1,353.7 421.6,354.9 421.8,355.9 422.3,356.7 422.1,357.7 422.6,358.8 421.5,359.5 422.1,360.6 421.5,361.5 421.6,362.5 422.1,363.5 421.4,364.4 421.4,365.4 422.0,366.0 422.1,367.0 422.5,367.8 423.1,368.4 423.4,369.3 424.1,369.8 424.1,370.9 424.5,371.7 423.8,372.3 423.6,373.2 423.3,374.0 423.3,375.0 423.2,375.9 422.9,376.8 422.3,377.4 422.0,378.3 422.1,379.5 421.1,379.8 420.7,380.6 420.8,381.8 420.1,382.4 419.7,383.2 419.1,383.9 419.3,384.9 418.9,385.7 418.8,386.5 418.7,387.4 418.3,388.2 418.3,389.1 417.4,389.6 417.8,390.7 417.2,391.4 418.0,390.8 418.7,391.4 419.5,390.8 420.2,391.1 421.0,391.7 421.7,391.5 422.5,391.4 423.2,391.3 423.9,390.5 424.7,390.6 425.4,390.7 426.2,391.2 427.0,391.4 427.7,391.1 428.4,391.2 429.2,391.2 429.9,390.8 430.6,390.4 431.4,390.9 432.2,390.8 432.9,390.1 433.6,390.3 434.4,390.5 435.2,390.9 435.9,391.0 436.6,389.9 437.4,390.7 438.1,389.9 438.8,390.1 439.6,390.1 440.3,390.1 440.6,397.2 442.7,401.7 446.3,399.7 452.3,397.8 457.2,397.7 454.6,376.1 455.5,332.9 454.2,331.6 430.0,333.3Z" fill="#feb954"/>
<path d="M484.1,329.0 454.2,331.6 455.5,332.9 454.6,376.1 457.2,397.7 460.9,398.6 461.7,393.1 463.4,399.1 468.3,398.2 468.6,395.0 466.2,388.1 497.7,384.9 497.2,384.0 497.6,383.1 497.1,382.2 496.8,381.4 496.5,380.5 496.5,379.6 496.2,378.8 496.6,377.8 496.3,376.9 496.1,376.0 496.2,375.1 495.8,374.3 495.3,373.5 495.9,372.5 495.5,371.6 495.4,370.7 495.2,369.8 495.3,368.9 495.3,368.0 495.7,367.1 495.4,366.2 494.9,365.3 494.9,364.4 495.2,363.5 494.3,363.0 494.0,362.1 494.1,360.8 493.5,360.1 492.8,359.4 492.4,358.5 484.1,329.0Z" fill="#feb954"/>
<path d="M484.1,329.0 498.9,327.1 512.8,325.2 513.3,326.0 514.0,326.4 514.7,326.9 515.6,327.0 516.1,327.7 516.4,328.8 517.1,329.2 517.5,330.2 518.2,330.7 518.9,331.1 519.7,331.4 519.9,332.6 520.7,332.8 521.2,333.7 522.1,333.7 522.5,334.7 523.1,335.3 523.4,336.2 523.8,337.0 524.7,337.3 525.0,338.2 525.7,338.7 526.2,339.4 526.1,340.7 527.2,340.8 527.1,342.1 527.5,342.9 528.4,343.3 529.0,343.8 529.6,344.3 530.3,344.7 530.7,345.7 531.3,346.2 531.8,346.9 532.4,347.4 533.1,347.7 533.5,348.7 534.1,349.2 534.6,349.9 535.4,350.2 535.6,351.2 536.4,351.6 537.0,352.3 537.6,353.0 538.3,353.5 538.8,354.2 538.7,355.6 539.4,356.1 539.9,356.9 540.7,357.3 541.2,358.0 541.4,358.9 541.9,359.7 542.6,360.1 543.2,360.7 544.0,361.0 544.2,362.0 544.7,362.6 545.1,363.4 542.5,368.6 541.8,376.0 541.1,383.0 537.4,383.2 535.0,387.8 534.6,389.1 532.3,386.5 499.8,388.8 497.7,384.9 497.2,384.0 497.6,383.1 497.1,382.2 496.8,381.4 496.5,380.5 496.5,379.6 496.2,378.8 496.6,377.8 496.3,376.9 496.1,376.0 496.2,375.1 495.8,374.3 495.3,373.5 495.9,372.5 495.5,371.6 495.4,370.7 495.2,369.8 495.3,368.9 495.3,368.0 495.7,367.1 495.4,366.2 494.9,365.3 494.9,364.4 495.2,363.5 494.3,363.0 494.0,362.1 494.1,360.8 493.5,360.1 492.8,359.4 492.4,358.5 484.1,329.0Z" fill="#fd9a3f"/>
<path d="M497.7,384.9 466.2,388.1 468.6,395.0 468.3,398.2 474.3,396.2 480.4,395.3 486.7,396.8 492.0,399.9 494.9,403.8 499.9,404.0 504.4,399.9 507.8,397.3 512.1,396.8 519.5,401.5 525.4,407.9 530.2,410.8 530.4,416.6 530.9,425.1 533.1,431.2 539.4,439.6 545.2,443.8 548.3,451.1 554.7,454.4 557.7,460.8 564.1,459.4 566.9,456.8 568.6,450.8 568.7,443.6 567.0,433.8 561.8,426.1 558.0,418.1 556.2,411.2 549.9,403.6 545.5,395.6 542.8,390.3 541.1,383.0 537.4,383.2 535.0,387.8 534.6,389.1 532.3,386.5 499.8,388.8 497.7,384.9Z" fill="#cbcbcb"/>
<path d="M512.8,325.2 516.3,323.5 521.6,321.0 531.9,319.9 536.0,319.6 537.4,320.1 539.6,323.8 552.5,321.9 567.8,333.0 563.5,338.9 560.9,344.5 557.3,348.0 553.8,352.3 549.2,357.4 545.1,363.4 544.7,362.6 544.2,362.0 544.0,361.0 543.2,360.7 542.6,360.1 541.9,359.7 541.4,358.9 541.2,358.0 540.7,357.3 539.9,356.9 539.4,356.1 538.7,355.6 538.8,354.2 538.3,353.5 537.6,353.0 537.0,352.3 536.4,351.6 535.6,351.2 535.4,350.2 534.6,349.9 534.1,349.2 533.5,348.7 533.1,347.7 532.4,347.4 531.8,346.9 531.3,346.2 530.7,345.7 530.3,344.7 529.6,344.3 529.0,343.8 528.4,343.3 527.5,342.9 527.1,342.1 527.2,340.8 526.1,340.7 526.2,339.4 525.7,338.7 525.0,338.2 524.7,337.3 523.8,337.0 523.4,336.2 523.1,335.3 522.5,334.7 522.1,333.7 521.2,333.7 520.7,332.8 519.9,332.6 519.7,331.4 518.9,331.1 518.2,330.7 517.5,330.2 517.1,329.2 516.4,328.8 516.1,327.7 515.6,327.0 514.7,326.9 514.0,326.4 513.3,326.0 512.8,325.2Z" fill="#fd9a3f"/>
<path d="M512.8,325.2 498.9,327.1 498.4,326.0 498.9,324.9 498.7,323.8 499.3,323.5 499.5,322.4 500.1,322.0 500.9,321.8 501.4,321.3 501.4,320.0 502.5,320.1 502.8,319.3 503.5,319.0 504.4,319.2 505.1,319.0 505.8,318.7 506.3,317.5 507.2,317.8 507.9,317.5 508.7,317.2 508.7,315.7 509.5,315.5 510.0,314.9 510.9,314.9 511.3,314.1 512.2,314.1 512.8,313.5 513.1,312.3 513.7,311.7 514.6,311.7 515.3,311.5 515.9,310.8 516.6,310.4 517.2,310.0 517.9,309.8 518.6,309.6 519.1,308.8 520.0,309.3 520.7,309.0 521.1,307.9 521.7,307.4 522.5,307.5 523.4,306.9 523.7,305.9 523.8,304.7 524.2,304.1 524.0,302.9 524.5,302.3 524.7,301.5 525.7,301.2 525.7,300.2 590.5,288.9 590.0,293.0 581.0,293.2 580.5,294.3 587.0,299.0 593.0,298.0 594.5,301.0 592.0,304.0 587.5,305.8 580.5,306.2 580.5,307.2 588.0,309.5 589.0,313.0 583.0,312.8 582.5,313.8 585.0,316.0 580.0,320.0 576.0,324.0 574.0,330.0 568.0,332.0 567.8,333.0 552.5,321.9 539.6,323.8 537.4,320.1 536.0,319.6 531.9,319.9 521.6,321.0 516.3,323.5 512.8,325.2Z" fill="#feb954"/>
<path d="M430.0,333.3 454.2,331.6 484.1,329.0 498.9,327.1 498.4,326.0 498.9,324.9 498.7,323.8 499.3,323.5 499.5,322.4 500.1,322.0 500.9,321.8 501.4,321.3 501.4,320.0 502.5,320.1 502.8,319.3 503.5,319.0 504.4,319.2 505.1,319.0 505.8,318.7 506.3,317.5 507.2,317.8 507.9,317.5 508.7,317.2 508.7,315.7 509.5,315.5 510.0,314.9 510.9,314.9 511.3,314.1 512.2,314.1 512.8,313.5 513.1,312.3 513.7,311.7 514.6,311.7 515.3,311.5 515.9,310.8 516.6,310.4 517.2,310.0 517.9,309.8 518.6,309.6 519.1,308.8 520.0,309.3 520.7,309.0 521.1,307.9 521.7,307.4 522.5,307.5 523.4,306.9 523.7,305.9 523.8,304.7 524.2,304.1 524.0,302.9 524.5,302.3 524.7,301.5 525.7,301.2 525.7,300.2 503.2,303.3 453.9,307.4 454.1,310.0 437.4,311.2 436.7,311.9 436.7,312.9 436.7,314.0 436.8,315.0 436.2,315.8 436.2,316.7 436.1,317.6 435.9,318.5 435.3,319.1 434.6,319.6 434.4,320.6 434.2,321.6 433.6,322.1 433.3,323.0 433.0,323.9 433.4,324.8 432.8,325.6 432.5,326.5 432.6,327.4 432.3,328.3 432.7,329.2 432.9,330.2 432.5,331.0 431.9,331.6 431.5,332.6 430.5,332.5 430.0,333.3Z" fill="#cbcbcb"/>
<path d="M437.4,311.2 454.1,310.0 453.9,307.4 503.2,303.3 516.8,291.7 520.4,287.2 519.7,286.9 518.9,286.6 518.2,286.6 517.5,285.5 516.7,285.9 516.3,285.1 515.5,284.9 515.3,283.9 514.6,283.5 514.0,283.0 513.9,281.9 513.3,281.3 512.7,280.8 512.3,280.1 511.9,279.2 511.6,278.4 512.4,277.4 511.8,276.6 511.8,275.7 510.9,275.7 510.6,274.6 509.8,274.5 509.3,273.7 508.7,273.2 507.9,273.0 507.4,272.4 506.8,271.9 506.4,272.8 505.5,272.7 504.7,272.6 504.1,273.0 503.6,273.9 502.8,273.4 502.1,273.7 501.4,274.0 500.6,273.7 499.9,273.9 499.2,274.7 498.4,274.1 497.8,273.6 497.0,273.4 496.2,273.9 495.6,273.3 494.9,272.7 494.1,273.0 493.5,272.6 492.9,272.0 492.3,271.6 491.7,271.2 491.2,270.5 490.5,270.2 490.4,269.0 489.7,268.7 489.0,269.2 488.3,269.5 487.6,268.8 486.9,269.5 486.2,269.1 485.7,269.9 486.4,270.9 486.1,271.8 485.8,272.6 486.0,273.5 485.3,273.7 484.8,274.4 484.1,274.6 483.8,275.7 483.0,275.6 482.2,275.1 481.5,274.8 480.7,275.0 480.4,275.8 480.2,276.6 480.1,277.5 479.7,278.2 479.0,278.6 478.7,279.4 478.1,279.9 478.3,281.2 477.7,281.7 477.1,282.3 477.2,283.4 476.7,284.0 476.4,284.8 475.5,285.2 475.6,286.3 474.9,286.3 474.1,285.8 473.5,286.7 472.8,286.5 472.0,287.2 471.2,287.1 470.3,286.2 469.5,286.9 468.7,286.8 468.0,287.2 467.4,288.1 466.6,287.9 466.2,288.7 465.5,289.0 464.8,289.2 464.5,290.2 463.4,289.8 463.2,290.8 462.5,290.7 461.9,289.9 461.2,290.0 460.5,290.1 459.9,289.4 459.2,289.5 458.7,288.6 457.9,288.7 457.2,288.7 456.6,289.4 455.9,289.3 455.3,289.7 454.8,290.4 453.9,290.1 453.4,290.9 452.8,291.3 452.6,292.4 451.8,292.8 452.1,294.0 451.3,295.0 451.6,296.2 450.8,296.0 450.4,297.4 449.5,296.9 448.9,297.7 448.2,297.9 447.8,298.9 448.2,299.8 448.4,300.8 448.4,301.8 447.3,302.1 446.5,302.2 445.9,303.0 445.0,301.9 444.4,303.1 443.5,302.6 442.8,302.9 442.1,303.2 441.3,302.9 440.8,303.8 441.8,304.4 442.3,305.3 441.9,306.3 442.0,307.2 441.4,307.9 441.8,309.2 441.2,310.0 440.5,310.5 439.8,311.0 438.9,310.8 438.3,311.6 437.4,311.2Z" fill="#feb954"/>
<path d="M503.2,303.3 525.7,300.2 590.5,288.9 587.5,286.7 585.0,283.3 584.2,278.3 583.3,273.3 581.7,270.0 580.5,268.0 579.8,267.3 579.1,267.6 578.4,267.5 577.7,267.3 577.0,267.0 576.2,267.0 575.5,266.7 574.7,266.7 573.9,266.4 573.2,265.9 572.5,265.5 571.7,265.9 570.9,265.8 570.1,264.9 569.3,265.4 569.1,264.2 569.4,263.2 569.7,262.2 570.6,262.0 570.4,260.5 571.1,260.1 570.3,259.4 569.9,258.3 569.1,258.3 568.3,258.0 567.8,257.0 567.0,257.1 566.3,256.7 565.7,255.9 565.2,254.9 564.4,254.4 563.7,254.7 563.0,253.8 562.4,254.0 559.8,257.0 555.6,258.5 551.4,264.1 547.8,269.5 544.2,272.3 541.5,278.3 538.9,284.6 529.4,290.2 520.4,287.2 516.8,291.7 503.2,303.3ZM591.3,267.3 590.2,272.0 589.2,276.0 588.2,280.5 587.5,279.5 587.0,275.5 585.8,271.7 586.5,267.0Z" fill="#fd9a3f"/>
<path d="M542.5,251.9 531.3,253.8 529.2,240.7 529.4,241.7 529.0,242.5 528.9,243.4 528.9,244.3 528.7,245.1 529.1,246.0 528.4,246.7 529.1,247.8 528.5,248.4 528.4,249.3 528.6,250.3 528.5,251.3 527.8,251.8 528.4,253.2 527.3,253.4 527.1,254.2 527.5,255.5 526.5,255.8 526.7,256.9 526.1,257.4 525.7,258.2 525.1,258.6 524.8,259.5 524.2,259.9 523.7,260.6 522.8,260.4 522.3,261.0 522.0,262.0 521.2,261.9 520.6,262.5 520.3,263.4 520.2,264.4 519.5,264.9 519.0,265.5 518.6,266.2 518.0,266.7 517.3,267.0 517.3,268.3 516.7,268.8 515.9,269.0 515.3,269.6 515.1,270.5 515.0,271.4 514.4,272.0 514.3,273.0 513.6,273.5 513.7,274.7 513.3,275.5 512.4,274.9 511.8,275.7 511.8,276.6 512.4,277.4 511.6,278.4 511.9,279.2 512.3,280.1 512.7,280.8 513.3,281.3 513.9,281.9 514.0,283.0 514.6,283.5 515.3,283.9 515.5,284.9 516.3,285.1 516.7,285.9 517.5,285.5 518.2,286.6 518.9,286.6 519.7,286.9 520.4,287.2 529.4,290.2 538.9,284.6 541.5,278.3 544.2,272.3 547.8,269.5 551.4,264.1 555.6,258.5 559.8,257.0 562.4,254.0 561.7,253.5 561.2,252.7 560.4,251.6 560.5,250.3 559.8,250.5 559.2,249.5 558.5,250.4 557.8,249.5 557.1,250.3 556.4,249.6 556.2,250.5 555.7,251.2 554.7,251.0 554.7,252.3 553.9,252.4 553.1,252.6 552.3,252.6 551.6,252.4 551.0,251.8 550.3,251.5 550.1,252.3 549.5,252.7 548.9,253.2 548.5,254.0 548.3,254.8 543.8,259.2 542.5,251.9Z" fill="#feb954"/>
<path d="M542.5,251.9 581.8,244.2 586.6,261.7 593.6,260.3 592.5,264.5 591.3,267.3 586.5,267.0 585.0,264.5 584.2,262.0 582.0,258.0 581.7,256.5 582.9,252.5 580.4,247.5 577.5,249.2 575.8,253.3 577.5,257.0 578.3,259.5 579.5,264.5 580.5,268.0 579.8,267.3 579.1,267.6 578.4,267.5 577.7,267.3 577.0,267.0 576.2,267.0 575.5,266.7 574.7,266.7 573.9,266.4 573.2,265.9 572.5,265.5 571.7,265.9 570.9,265.8 570.1,264.9 569.3,265.4 569.1,264.2 569.4,263.2 569.7,262.2 570.6,262.0 570.4,260.5 571.1,260.1 570.3,259.4 569.9,258.3 569.1,258.3 568.3,258.0 567.8,257.0 567.0,257.1 566.3,256.7 565.7,255.9 565.2,254.9 564.4,254.4 563.7,254.7 563.0,253.8 562.4,254.0 561.7,253.5 561.2,252.7 560.4,251.6 560.5,250.3 559.8,250.5 559.2,249.5 558.5,250.4 557.8,249.5 557.1,250.3 556.4,249.6 556.2,250.5 555.7,251.2 554.7,251.0 554.7,252.3 553.9,252.4 553.1,252.6 552.3,252.6 551.6,252.4 551.0,251.8 550.3,251.5 550.1,252.3 549.5,252.7 548.9,253.2 548.5,254.0 548.3,254.8 543.8,259.2 542.5,251.9Z" fill="#fd9a3f"/>
<path d="M593.6,260.3 586.6,261.7 581.8,244.2 583.4,242.1 585.5,242.2 584.7,245.3 586.7,249.3 592.0,255.5 593.6,260.3Z" fill="#fd9a3f"/>
<path d="M581.8,244.2 542.5,251.9 531.3,253.8 529.2,240.7 526.1,221.7 533.3,216.3 533.9,220.1 579.3,211.2 580.5,212.9 583.4,215.9 584.8,217.6 588.2,218.6 587.7,219.3 587.5,220.2 587.0,220.7 586.7,221.6 586.0,222.0 586.0,223.1 585.2,223.3 585.0,224.3 584.8,225.1 584.3,226.1 585.2,227.2 584.9,228.2 585.0,229.2 585.4,230.2 586.2,230.6 586.9,230.8 587.6,231.5 588.0,232.4 588.6,233.1 589.3,234.1 590.1,234.5 591.0,234.8 590.6,235.6 589.8,235.9 589.5,236.7 589.3,237.7 589.0,238.4 588.4,238.9 587.9,239.4 587.8,240.5 587.0,240.7 586.3,240.8 585.8,241.4 585.5,242.2 583.4,242.1 581.8,244.2Z" fill="#fed87a"/>
<path d="M585.5,242.2 585.8,241.4 586.3,240.8 587.0,240.7 587.8,240.5 587.9,239.4 588.4,238.9 589.0,238.4 589.3,237.7 589.5,236.7 589.8,235.9 590.6,235.6 591.0,234.8 590.1,234.5 589.3,234.1 588.6,233.1 588.0,232.4 587.6,231.5 586.9,230.8 586.2,230.6 585.4,230.2 585.0,229.2 584.9,228.2 585.2,227.2 584.3,226.1 584.8,225.1 585.0,224.3 585.2,223.3 586.0,223.1 586.0,222.0 586.7,221.6 587.0,220.7 587.5,220.2 587.7,219.3 588.2,218.6 597.5,221.9 597.3,225.5 597.1,227.0 595.5,229.6 598.3,229.7 599.3,236.1 599.6,239.7 597.5,245.4 595.8,250.2 593.2,253.3 592.9,249.4 589.3,248.7 585.7,247.3 584.5,244.6 585.5,242.2Z" fill="#b4002a"/>
<path d="M588.2,218.6 584.8,217.6 583.4,215.9 580.5,212.9 579.3,211.2 533.9,220.1 533.3,216.3 540.4,206.6 538.1,201.1 543.3,198.5 549.5,197.5 553.8,198.2 559.7,196.3 564.2,192.5 565.6,189.3 564.2,185.2 562.9,183.7 566.7,179.5 570.6,173.6 573.7,169.2 576.5,167.9 589.8,164.6 590.3,165.4 589.8,166.4 590.3,167.3 590.3,168.2 590.4,169.1 590.7,170.0 591.2,170.8 591.1,171.7 591.5,172.6 591.4,173.5 591.9,174.3 592.3,175.1 592.2,176.1 592.2,177.0 592.9,177.7 593.1,178.6 593.2,179.5 592.8,180.4 593.0,181.3 593.1,182.2 593.4,183.1 593.5,183.9 595.5,184.2 597.2,192.3 598.2,195.8 598.3,206.1 600.4,216.7 601.2,217.3 599.6,218.3 600.4,219.2 599.0,222.5 599.5,223.8 601.5,223.2 605.0,221.8 608.0,220.5 611.7,219.3 613.5,218.5 615.8,217.9 610.0,221.5 605.0,224.5 601.5,226.5 598.1,228.0 597.1,227.0 597.3,225.5 597.5,221.9 588.2,218.6Z" fill="#b4002a"/>
<path d="M598.3,206.1 617.1,201.3 617.5,210.8 611.7,212.5 605.0,215.8 602.5,217.5 600.4,219.2 599.6,218.3 601.2,217.3 600.4,216.7 598.3,206.1Z" fill="#f9742f"/>
<path d="M617.1,201.3 620.3,200.9 620.6,203.5 621.7,208.7 620.3,207.4 619.6,209.6 617.5,210.8 617.1,201.3Z" fill="#fd9a3f"/>
<path d="M598.3,206.1 598.2,195.8 606.4,194.1 612.1,192.9 618.5,190.7 619.7,189.2 622.5,187.7 625.0,190.4 622.5,195.0 626.7,198.3 628.3,202.5 630.0,204.0 633.5,202.3 635.3,200.3 635.9,199.6 634.6,202.0 633.3,203.8 630.0,205.3 625.4,206.7 622.8,205.4 621.7,208.7 620.6,203.5 620.3,200.9 617.1,201.3 598.3,206.1ZM629.3,207.4 631.3,207.2 631.0,208.3 629.5,208.3ZM636.6,206.3 638.6,206.0 638.4,207.0 636.8,207.0Z" fill="#ef4526"/>
<path d="M598.2,195.8 606.4,194.1 605.7,193.5 606.1,192.2 605.3,191.7 605.2,190.7 604.3,190.3 604.5,189.2 604.0,188.4 604.3,187.6 604.1,186.7 604.2,185.8 604.3,185.0 603.9,184.0 604.3,183.2 604.0,182.2 604.1,181.4 604.9,180.8 604.7,179.8 605.1,179.0 604.5,177.9 604.8,177.2 604.5,176.2 605.0,175.5 604.5,174.5 604.9,173.8 604.7,172.9 605.3,172.2 604.9,171.2 605.5,170.9 605.9,170.3 606.5,170.0 606.7,169.0 607.1,168.4 607.5,167.7 608.1,167.4 608.4,166.6 608.6,165.7 607.8,164.7 608.2,163.7 607.8,162.8 607.9,161.9 607.5,161.0 607.7,160.0 589.8,164.6 590.3,165.4 589.8,166.4 590.3,167.3 590.3,168.2 590.4,169.1 590.7,170.0 591.2,170.8 591.1,171.7 591.5,172.6 591.4,173.5 591.9,174.3 592.3,175.1 592.2,176.1 592.2,177.0 592.9,177.7 593.1,178.6 593.2,179.5 592.8,180.4 593.0,181.3 593.1,182.2 593.4,183.1 593.5,183.9 595.5,184.2 597.2,192.3 598.2,195.8Z" fill="#ef4526"/>
<path d="M622.5,187.7 619.7,189.2 618.5,190.7 612.1,192.9 606.4,194.1 605.7,193.5 606.1,192.2 605.3,191.7 605.2,190.7 604.3,190.3 604.5,189.2 604.0,188.4 604.3,187.6 604.1,186.7 604.2,185.8 604.3,185.0 603.9,184.0 604.3,183.2 604.0,182.2 604.1,181.4 604.9,180.8 604.7,179.8 605.1,179.0 604.5,177.9 604.8,177.2 604.5,176.2 605.0,175.5 604.5,174.5 604.9,173.8 604.7,172.9 605.3,172.2 604.9,171.2 605.5,170.9 605.9,170.3 606.5,170.0 606.7,169.0 607.1,168.4 607.5,167.7 608.1,167.4 608.4,166.6 608.6,165.7 607.8,164.7 608.2,163.7 607.8,162.8 607.9,161.9 607.5,161.0 607.7,160.0 610.7,155.0 613.4,163.1 616.3,172.7 618.9,181.6 620.9,182.5 622.7,184.6 622.5,187.7Z" fill="#fed87a"/>
<path d="M622.7,184.6 620.9,182.5 618.9,181.6 616.3,172.7 613.4,163.1 610.7,155.0 613.2,155.3 613.8,151.9 615.3,147.8 615.8,144.0 614.9,139.1 615.9,135.1 615.9,132.9 620.1,120.6 624.2,123.4 627.1,121.1 629.1,119.5 633.2,121.2 635.0,121.8 639.7,137.0 640.8,140.4 644.4,140.8 646.8,145.3 650.8,147.8 652.2,150.0 649.0,152.8 647.2,152.5 645.0,154.5 642.0,156.0 641.0,159.0 639.0,161.5 636.8,159.3 635.3,158.2 635.0,163.0 633.0,167.0 630.5,168.5 629.0,171.0 627.5,174.0 625.4,176.8 623.6,181.8 622.7,184.6Z" fill="#f9742f"/>
<path d="M402.8,166.6 407.2,165.9 412.9,163.4 414.8,162.6 414.1,167.6 418.9,167.8 432.7,171.2 442.1,174.4 445.2,176.5 448.3,186.6 447.2,191.0 445.0,195.2 448.6,190.2 453.9,183.5 451.3,191.4 450.0,196.5 450.0,200.1 448.8,205.9 447.8,216.1 449.4,220.5 449.5,224.0 420.0,225.8 419.5,224.9 418.6,224.8 418.1,224.0 417.6,223.2 416.9,222.9 417.0,221.4 416.5,220.7 415.8,220.3 414.9,220.1 414.4,219.4 414.3,218.3 414.1,217.4 414.3,216.4 414.1,215.5 413.6,214.7 413.8,213.7 413.2,212.9 413.2,211.9 413.1,211.0 412.6,210.2 412.6,209.1 412.6,208.1 412.2,207.3 411.8,206.3 410.8,206.7 410.2,206.0 409.7,205.3 409.3,204.4 408.5,204.3 408.1,203.6 407.7,202.9 407.2,202.3 406.3,202.4 406.2,201.1 405.5,200.8 404.7,200.8 404.5,199.8 403.9,199.5 403.2,199.8 402.6,199.2 402.1,198.9 401.5,198.6 401.0,198.0 400.5,197.2 399.7,197.9 399.2,197.2 398.4,197.3 397.9,196.6 397.6,195.5 397.1,194.8 396.4,194.8 396.7,193.9 396.4,193.0 396.3,192.1 396.2,191.3 396.5,190.4 396.9,189.6 396.9,188.7 396.6,187.8 396.6,186.9 396.1,186.2 396.0,185.4 396.0,184.4 395.3,183.8 395.6,182.7 395.1,182.0 395.7,181.5 396.4,181.4 396.7,180.6 397.2,180.2 397.6,179.6 398.0,178.9 398.2,177.8 398.9,177.8 399.2,176.9 399.9,176.8 400.2,176.0 400.8,175.7 401.0,174.7 400.9,173.8 400.3,172.9 400.7,171.9 400.2,171.0 400.3,170.1 400.2,169.2 400.1,168.2 400.5,167.3 401.0,167.1 401.7,167.6 402.2,166.5 402.8,166.6Z" fill="#f9742f"/>
<path d="M420.0,225.8 449.5,224.0 452.2,230.8 453.3,234.1 456.4,268.6 456.4,269.6 456.4,270.5 456.1,271.3 455.7,272.1 455.8,273.0 456.0,273.9 456.1,274.8 456.4,275.6 456.3,276.7 457.2,277.2 457.2,278.2 456.4,278.7 456.1,279.6 455.6,280.4 455.8,281.8 455.1,282.4 454.5,283.0 454.9,284.2 453.9,284.5 453.4,285.1 453.5,286.2 453.2,287.0 453.3,287.9 452.8,288.7 453.2,289.7 452.6,290.4 452.8,291.3 452.6,292.4 451.8,292.8 452.1,294.0 451.3,295.0 451.6,296.2 450.8,296.0 450.4,297.4 449.5,296.9 448.9,297.7 448.2,297.9 447.8,298.9 448.2,299.8 448.4,300.8 448.4,301.8 447.3,302.1 446.5,302.2 445.9,303.0 445.0,301.9 444.4,303.1 443.5,302.6 442.8,302.9 442.1,303.2 441.3,302.9 440.8,303.8 440.4,302.8 439.8,302.4 439.1,302.0 438.6,301.1 437.7,301.2 437.3,300.2 436.7,299.6 436.5,298.6 437.0,297.5 436.6,296.5 436.4,295.4 435.9,294.9 435.5,294.0 435.0,293.4 434.3,293.1 434.0,292.2 433.4,291.6 432.7,291.4 431.9,290.8 431.1,290.2 430.2,290.4 429.6,289.8 429.0,289.1 428.5,288.4 427.8,287.9 427.4,286.9 426.6,286.7 426.5,285.6 426.9,284.8 427.0,283.8 427.2,282.8 427.9,282.1 428.1,281.1 428.3,280.2 428.0,279.1 428.7,278.4 427.8,278.5 427.4,277.2 426.5,277.4 425.8,276.9 425.1,276.4 424.4,276.0 423.5,276.0 422.7,275.5 422.1,274.7 421.7,273.9 420.8,273.8 420.6,272.8 419.9,272.4 419.2,272.1 418.8,271.4 418.8,270.1 418.0,269.9 417.2,269.7 416.9,268.5 415.9,268.7 415.4,268.0 414.8,267.5 414.4,266.5 414.5,265.5 413.7,264.9 413.9,263.9 413.7,263.1 413.5,262.2 413.6,261.3 413.4,260.4 413.5,259.4 413.7,258.5 413.6,257.6 413.3,256.7 413.5,255.8 413.7,254.9 414.2,254.1 414.1,253.1 414.6,252.3 415.2,251.7 416.1,251.7 416.4,250.5 416.0,249.5 416.9,248.7 416.7,247.7 416.9,246.7 416.7,245.8 416.7,244.8 416.8,243.7 417.2,242.8 417.3,241.7 418.1,241.1 418.6,240.4 419.3,240.2 420.1,240.6 420.8,240.5 421.5,240.1 422.0,239.5 422.7,239.4 423.2,238.7 423.7,238.1 424.0,237.3 424.8,237.1 425.2,236.4 425.7,235.5 425.2,234.4 425.5,233.5 424.9,233.0 424.4,232.3 424.0,231.6 423.7,230.8 423.4,229.9 423.1,229.1 422.4,228.7 421.7,228.4 421.7,227.1 421.2,226.5 420.3,226.7 420.0,225.8Z" fill="#feb954"/>
<path d="M453.3,234.1 460.7,233.4 482.0,232.0 486.2,269.1 485.7,269.9 486.4,270.9 486.1,271.8 485.8,272.6 486.0,273.5 485.3,273.7 484.8,274.4 484.1,274.6 483.8,275.7 483.0,275.6 482.2,275.1 481.5,274.8 480.7,275.0 480.4,275.8 480.2,276.6 480.1,277.5 479.7,278.2 479.0,278.6 478.7,279.4 478.1,279.9 478.3,281.2 477.7,281.7 477.1,282.3 477.2,283.4 476.7,284.0 476.4,284.8 475.5,285.2 475.6,286.3 474.9,286.3 474.1,285.8 473.5,286.7 472.8,286.5 472.0,287.2 471.2,287.1 470.3,286.2 469.5,286.9 468.7,286.8 468.0,287.2 467.4,288.1 466.6,287.9 466.2,288.7 465.5,289.0 464.8,289.2 464.5,290.2 463.4,289.8 463.2,290.8 462.5,290.7 461.9,289.9 461.2,290.0 460.5,290.1 459.9,289.4 459.2,289.5 458.7,288.6 457.9,288.7 457.2,288.7 456.6,289.4 455.9,289.3 455.3,289.7 454.8,290.4 453.9,290.1 453.4,290.9 452.8,291.3 452.6,290.4 453.2,289.7 452.8,288.7 453.3,287.9 453.2,287.0 453.5,286.2 453.4,285.1 453.9,284.5 454.9,284.2 454.5,283.0 455.1,282.4 455.8,281.8 455.6,280.4 456.1,279.6 456.4,278.7 457.2,278.2 457.2,277.2 456.3,276.7 456.4,275.6 456.1,274.8 456.0,273.9 455.8,273.0 455.7,272.1 456.1,271.3 456.4,270.5 456.4,269.6 456.4,268.6 453.3,234.1Z" fill="#fed87a"/>
<path d="M482.0,232.0 496.1,229.8 500.0,231.2 504.5,232.7 511.7,231.0 514.9,230.5 519.5,226.1 526.1,221.7 529.2,240.7 529.4,241.7 529.0,242.5 528.9,243.4 528.9,244.3 528.7,245.1 529.1,246.0 528.4,246.7 529.1,247.8 528.5,248.4 528.4,249.3 528.6,250.3 528.5,251.3 527.8,251.8 528.4,253.2 527.3,253.4 527.1,254.2 527.5,255.5 526.5,255.8 526.7,256.9 526.1,257.4 525.7,258.2 525.1,258.6 524.8,259.5 524.2,259.9 523.7,260.6 522.8,260.4 522.3,261.0 522.0,262.0 521.2,261.9 520.6,262.5 520.3,263.4 520.2,264.4 519.5,264.9 519.0,265.5 518.6,266.2 518.0,266.7 517.3,267.0 517.3,268.3 516.7,268.8 515.9,269.0 515.3,269.6 515.1,270.5 515.0,271.4 514.4,272.0 514.3,273.0 513.6,273.5 513.7,274.7 513.3,275.5 512.4,274.9 511.8,275.7 510.9,275.7 510.6,274.6 509.8,274.5 509.3,273.7 508.7,273.2 507.9,273.0 507.4,272.4 506.8,271.9 506.4,272.8 505.5,272.7 504.7,272.6 504.1,273.0 503.6,273.9 502.8,273.4 502.1,273.7 501.4,274.0 500.6,273.7 499.9,273.9 499.2,274.7 498.4,274.1 497.8,273.6 497.0,273.4 496.2,273.9 495.6,273.3 494.9,272.7 494.1,273.0 493.5,272.6 492.9,272.0 492.3,271.6 491.7,271.2 491.2,270.5 490.5,270.2 490.4,269.0 489.7,268.7 489.0,269.2 488.3,269.5 487.6,268.8 486.9,269.5 486.2,269.1 482.0,232.0Z" fill="#fed87a"/>
<path d="M482.0,232.0 496.1,229.8 498.6,224.8 498.6,221.2 500.6,220.2 503.3,217.0 504.1,211.1 504.3,210.3 501.9,203.4 499.5,197.3 496.3,196.3 493.0,198.9 488.0,203.9 487.4,199.6 490.3,194.2 492.2,188.9 490.3,182.7 487.8,178.7 482.5,176.5 475.6,174.0 473.0,176.9 470.1,182.3 468.2,183.9 468.8,188.9 464.2,188.6 462.6,193.1 461.3,199.7 461.5,206.9 464.8,214.5 466.1,222.2 463.5,227.5 460.7,233.4 482.0,232.0Z" fill="#feb954"/>
<path d="M418.9,167.8 426.5,164.5 431.7,161.4 434.8,158.8 435.8,157.7 437.9,155.6 442.6,153.3 440.0,156.7 438.8,159.8 441.0,161.4 446.2,162.4 449.4,166.0 456.7,166.0 459.8,164.0 465.0,162.4 470.7,160.8 471.8,163.4 476.5,164.0 479.6,166.6 482.2,169.2 477.5,170.2 473.3,169.7 468.1,170.7 464.0,173.3 458.7,174.9 454.6,174.9 451.0,178.5 448.3,186.6 445.2,176.5 442.1,174.4 432.7,171.2 418.9,167.8ZM430.1,148.3 435.3,144.7 435.9,145.2 430.7,148.9Z" fill="#feb954"/>
<path d="M72.4,254.1 73.0,253.4 73.4,251.4 74.9,250.0 76.3,251.2 77.3,251.6 79.1,251.5 81.2,252.2 84.0,252.4 83.7,253.7 80.4,253.0 78.2,252.6 76.0,252.3 74.6,253.2 74.7,254.7 75.4,256.4 76.8,259.8 77.0,260.9 75.5,260.0 74.4,257.9 73.5,255.6 73.9,254.5Z" fill="#ffffff"/>
<path d="M134.3,389.2 130.1,387.7 125.9,388.1 122.7,388.1 119.6,387.0 116.3,387.4 114.9,385.6 111.8,385.6 109.7,384.6 108.0,383.2 105.8,385.4 103.6,385.5 101.6,387.5 98.9,387.5 97.0,389.4 95.1,393.0 91.8,393.4 89.6,395.5 89.9,396.8 92.5,399.2 93.7,402.3 96.1,402.9 97.3,406.0 95.1,407.6 92.8,407.1 91.4,404.6 88.8,406.2 86.8,406.8 83.9,407.9 86.8,410.2 87.0,413.5 89.2,414.6 91.7,414.5 93.7,415.8 96.4,415.8 97.3,417.0 96.8,420.1 94.1,420.3 92.2,422.0 89.4,420.8 88.2,423.1 86.8,424.9 85.4,427.1 84.6,429.4 86.1,431.7 87.2,433.6 88.9,436.6 91.5,437.2 92.4,440.0 92.5,443.7 95.9,442.6 98.7,445.1 101.3,444.8 104.1,444.2 103.7,447.6 102.2,450.2 100.2,452.5 96.3,454.7 93.4,457.1 90.6,457.5 86.3,460.4 83.4,460.9 81.7,462.9 85.2,461.9 89.0,461.0 91.4,459.8 95.7,458.3 98.8,457.3 101.7,455.0 104.2,453.2 106.1,450.9 108.8,449.0 111.6,445.8 113.1,444.6 114.1,441.4 115.5,438.7 117.1,435.7 118.2,433.5 120.5,431.9 122.2,433.0 120.0,435.9 118.7,438.1 117.3,439.6 118.3,442.3 121.0,441.0 123.1,438.9 125.2,438.0 126.2,435.2 128.2,433.3 130.8,433.2 132.6,434.7 135.5,436.3 138.2,436.4 141.1,435.6 143.5,435.7 143.2,433.7ZM110.0,451.4 112.4,448.5 116.5,448.2 116.8,450.4 114.5,452.9 111.3,454.9ZM74.3,415.1 77.8,417.0 80.3,418.6 77.6,419.7 74.4,417.1ZM81.3,433.8 84.7,433.9 84.0,436.5 81.7,435.9ZM81.5,460.6 83.5,461.9 82.7,463.3 81.2,462.0ZM74.8,463.8 77.3,464.6 76.3,466.6 73.8,465.9ZM69.0,465.1 71.6,466.4 70.4,467.9 68.3,466.4ZM63.9,467.3 65.7,467.3 65.1,468.6Z" fill="#cbcbcb"/>
<path d="M246.1,450.6 255.2,454.5 260.6,461.3 258.0,464.0 251.2,466.8 248.7,470.0 245.5,467.6 245.4,462.2 243.5,458.2 246.4,454.6ZM234.7,441.0 237.9,441.4 240.9,440.7 244.3,443.4 244.5,445.0 238.6,446.0 237.5,443.5 235.4,442.8ZM226.5,436.8 234.3,437.4 234.3,438.9 227.3,438.8ZM230.0,441.4 233.1,442.1 232.3,443.8 230.0,443.4ZM213.3,431.6 217.5,429.7 221.9,435.5 217.8,436.3 213.7,434.9ZM193.1,424.7 196.2,422.1 199.6,422.6 199.3,426.2 196.2,427.2 193.1,425.4ZM186.7,426.8 188.7,425.4 189.4,428.5 187.4,428.5ZM234.7,446.0 236.8,446.0 236.8,447.1 234.8,447.1Z" fill="#b4002a"/>
</g>
<g fill="none" stroke="#cbcbcb" stroke-linecap="round" stroke-linejoin="round"><path stroke-width="1.4" d="M142.6,434.3 L146,435.3 L148.5,433.9 L150.5,436.2 L153,438.3 L156,440.3"/><path stroke-width="1.1" d="M156.3,434.6 L160,436.6 L165,440.2 L169.5,444.4 L174,446.6 L177,448.6 L177.6,451.4 L175.6,452.6"/><path stroke-width="0.9" d="M157.3,436.5 L159.8,441 L163.5,445 L166.5,448.4 L170,452 L173.3,453.8"/><path stroke-width="0.8" d="M161.5,440.5 L167,443.8 L171.5,447.5 L174.5,450.2"/></g>
<g fill="none" stroke="#fff" stroke-width="1" stroke-linecap="round"><path d="M573.5,269.5 L578,272 L583.6,275.2"/><path d="M574.5,276.5 L579,279.5 L584.3,280.5"/><path d="M572.8,281 L579,283.5 L585.5,285.2"/></g>
<text transform="translate(129.5 127.5) scale(1 1.1)" class="ab" text-anchor="middle" fill="#ffffff">WA</text>
<text x="134.9" y="125.4" class="st" fill="#ffffff">***</text>
<text transform="translate(129.5 137.5) scale(1 1.06)" class="rt" text-anchor="middle" fill="#ffffff">7.00%</text>
<text transform="translate(116.5 174.5) scale(1 1.1)" class="ab" text-anchor="middle" fill="#ffffff">OR</text>
<text transform="translate(116.5 185.0) scale(1 1.06)" class="rt" text-anchor="middle" fill="#ffffff">9.90%</text>
<text transform="translate(97.9 272.0) scale(1 1.1)" class="ab" text-anchor="middle" fill="#ffffff">CA</text>
<text transform="translate(97.9 284.5) scale(1 1.06)" class="rt" text-anchor="middle" fill="#ffffff">13.30%</text>
<text transform="translate(232.3 153.8) scale(1 1.1)" class="ab" text-anchor="middle" fill="#444444">MT</text>
<text transform="translate(232.3 163.8) scale(1 1.06)" class="rt" text-anchor="middle" fill="#555555">5.90%</text>
<text transform="translate(178.5 189.5) scale(1 1.1)" class="ab" text-anchor="middle" fill="#444444">ID</text>
<text x="183.9" y="187.4" class="st" fill="#444444">*</text>
<text transform="translate(178.5 199.5) scale(1 1.06)" class="rt" text-anchor="middle" fill="#555555">5.80%</text>
<text transform="translate(141.9 248.3) scale(1 1.1)" class="ab" text-anchor="middle" fill="#444444">NV</text>
<text transform="translate(195.2 258.8) scale(1 1.1)" class="ab" text-anchor="middle" fill="#444444">UT</text>
<text x="200.6" y="256.7" class="st" fill="#444444">*</text>
<text transform="translate(195.2 268.8) scale(1 1.06)" class="rt" text-anchor="middle" fill="#555555">4.65%</text>
<text transform="translate(243.5 212.8) scale(1 1.1)" class="ab" text-anchor="middle" fill="#444444">WY</text>
<text transform="translate(322.6 201.2) scale(1 1.1)" class="ab" text-anchor="middle" fill="#444444">SD</text>
<text transform="translate(324.0 240.3) scale(1 1.1)" class="ab" text-anchor="middle" fill="#444444">NE</text>
<text transform="translate(324.0 252.8) scale(1 1.06)" class="rt" text-anchor="middle" fill="#555555">5.84%</text>
<text transform="translate(259.1 272.5) scale(1 1.1)" class="ab" text-anchor="middle" fill="#444444">CO</text>
<text x="264.5" y="270.4" class="st" fill="#444444">*</text>
<text transform="translate(259.1 282.2) scale(1 1.06)" class="rt" text-anchor="middle" fill="#555555">4.40%</text>
<text transform="translate(337.4 285.0) scale(1 1.1)" class="ab" text-anchor="middle" fill="#444444">KS</text>
<text transform="translate(337.4 294.7) scale(1 1.06)" class="rt" text-anchor="middle" fill="#555555">5.70%</text>
<text transform="translate(320.9 155.6) scale(1 1.1)" class="ab" text-anchor="middle" fill="#444444">ND</text>
<text transform="translate(320.9 165.8) scale(1 1.06)" class="rt" text-anchor="middle" fill="#555555">2.50%</text>
<text transform="translate(376.2 173.3) scale(1 1.1)" class="ab" text-anchor="middle" fill="#ffffff">MN</text>
<text transform="translate(376.2 183.3) scale(1 1.06)" class="rt" text-anchor="middle" fill="#ffffff">9.85%</text>
<text transform="translate(422.6 190.3) scale(1 1.1)" class="ab" text-anchor="middle" fill="#ffffff">WI</text>
<text transform="translate(422.6 200.6) scale(1 1.06)" class="rt" text-anchor="middle" fill="#ffffff">7.65%</text>
<text transform="translate(482.4 212.0) scale(1 1.1)" class="ab" text-anchor="middle" fill="#444444">MI</text>
<text x="487.8" y="209.9" class="st" fill="#444444">*</text>
<text transform="translate(482.4 222.2) scale(1 1.06)" class="rt" text-anchor="middle" fill="#555555">4.25%</text>
<text transform="translate(392.2 232.8) scale(1 1.1)" class="ab" text-anchor="middle" fill="#444444">IA</text>
<text transform="translate(392.2 243.0) scale(1 1.06)" class="rt" text-anchor="middle" fill="#555555">5.70%</text>
<text transform="translate(435.1 253.6) scale(1 1.1)" class="ab" text-anchor="middle" fill="#444444">IL</text>
<text x="440.5" y="251.5" class="st" fill="#444444">*</text>
<text transform="translate(435.1 263.9) scale(1 1.06)" class="rt" text-anchor="middle" fill="#555555">4.95%</text>
<text transform="translate(472.1 254.7) scale(1 1.1)" class="ab" text-anchor="middle" fill="#444444">IN</text>
<text x="477.5" y="252.6" class="st" fill="#444444">*</text>
<text transform="translate(472.1 264.7) scale(1 1.06)" class="rt" text-anchor="middle" fill="#555555">3.05%</text>
<text transform="translate(505.1 247.2) scale(1 1.1)" class="ab" text-anchor="middle" fill="#444444">OH</text>
<text transform="translate(505.1 257.0) scale(1 1.06)" class="rt" text-anchor="middle" fill="#555555">3.50%</text>
<text transform="translate(527.6 271.7) scale(1 1.1)" class="ab" text-anchor="middle" fill="#444444">WV</text>
<text transform="translate(527.6 282.0) scale(1 1.06)" class="rt" text-anchor="middle" fill="#555555">5.12%</text>
<text transform="translate(402.0 285.6) scale(1 1.1)" class="ab" text-anchor="middle" fill="#444444">MO</text>
<text transform="translate(402.0 295.8) scale(1 1.06)" class="rt" text-anchor="middle" fill="#555555">4.80%</text>
<text transform="translate(487.2 286.7) scale(1 1.1)" class="ab" text-anchor="middle" fill="#444444">KY</text>
<text x="492.6" y="284.6" class="st" fill="#444444">*</text>
<text transform="translate(487.2 296.7) scale(1 1.06)" class="rt" text-anchor="middle" fill="#555555">4.00%</text>
<text transform="translate(471.2 321.1) scale(1 1.1)" class="ab" text-anchor="middle" fill="#444444">TN</text>
<text transform="translate(578.4 196.0) scale(1 1.1)" class="ab" text-anchor="middle" fill="#ffffff">NY</text>
<text transform="translate(578.4 206.1) scale(1 1.06)" class="rt" text-anchor="middle" fill="#ffffff">10.90%</text>
<text transform="translate(556.7 228.5) scale(1 1.1)" class="ab" text-anchor="middle" fill="#444444">PA</text>
<text x="562.1" y="226.4" class="st" fill="#444444">*</text>
<text transform="translate(556.7 238.7) scale(1 1.06)" class="rt" text-anchor="middle" fill="#555555">3.07%</text>
<text transform="translate(556.1 278.7) scale(1 1.1)" class="ab" text-anchor="middle" fill="#444444">VA</text>
<text transform="translate(556.1 288.5) scale(1 1.06)" class="rt" text-anchor="middle" fill="#555555">5.75%</text>
<text transform="translate(561.4 308.5) scale(1 1.1)" class="ab" text-anchor="middle" fill="#444444">NC</text>
<text x="566.8" y="306.4" class="st" fill="#444444">*</text>
<text transform="translate(561.4 317.9) scale(1 1.06)" class="rt" text-anchor="middle" fill="#555555">4.50%</text>
<text transform="translate(543.5 336.0) scale(1 1.1)" class="ab" text-anchor="middle" fill="#444444">SC</text>
<text transform="translate(543.5 346.0) scale(1 1.06)" class="rt" text-anchor="middle" fill="#555555">6.40%</text>
<text transform="translate(346.4 326.7) scale(1 1.1)" class="ab" text-anchor="middle" fill="#444444">OK</text>
<text transform="translate(346.4 336.4) scale(1 1.06)" class="rt" text-anchor="middle" fill="#555555">4.75%</text>
<text transform="translate(405.0 335.8) scale(1 1.1)" class="ab" text-anchor="middle" fill="#444444">AR</text>
<text transform="translate(405.0 345.6) scale(1 1.06)" class="rt" text-anchor="middle" fill="#555555">4.40%</text>
<text transform="translate(324.7 383.6) scale(1 1.1)" class="ab" text-anchor="middle" fill="#444444">TX</text>
<text transform="translate(440.2 366.4) scale(1 1.1)" class="ab" text-anchor="middle" fill="#444444">MS</text>
<text x="445.6" y="364.3" class="st" fill="#444444">*</text>
<text transform="translate(440.2 375.6) scale(1 1.06)" class="rt" text-anchor="middle" fill="#555555">4.70%</text>
<text transform="translate(473.0 360.8) scale(1 1.1)" class="ab" text-anchor="middle" fill="#444444">AL</text>
<text transform="translate(473.0 370.6) scale(1 1.06)" class="rt" text-anchor="middle" fill="#555555">5.00%</text>
<text transform="translate(409.1 392.8) scale(1 1.1)" class="ab" text-anchor="middle" fill="#444444">LA</text>
<text transform="translate(409.1 402.5) scale(1 1.06)" class="rt" text-anchor="middle" fill="#555555">4.25%</text>
<text transform="translate(182.7 329.6) scale(1 1.1)" class="ab" text-anchor="middle" fill="#444444">AZ</text>
<text x="188.1" y="327.5" class="st" fill="#444444">*</text>
<text transform="translate(182.7 339.3) scale(1 1.06)" class="rt" text-anchor="middle" fill="#555555">2.50%</text>
<text transform="translate(245.5 337.8) scale(1 1.1)" class="ab" text-anchor="middle" fill="#444444">NM</text>
<text x="250.9" y="335.7" class="st" fill="#444444">*</text>
<text transform="translate(245.5 347.8) scale(1 1.06)" class="rt" text-anchor="middle" fill="#555555">5.90%</text>
<text transform="translate(516.0 361.0) scale(1 1.1)" class="ab" text-anchor="middle" fill="#444444">GA</text>
<text x="521.4" y="358.9" class="st" fill="#444444">*</text>
<text transform="translate(516.0 370.6) scale(1 1.06)" class="rt" text-anchor="middle" fill="#555555">5.49%</text>
<text transform="translate(546.2 421.0) scale(1 1.1)" class="ab" text-anchor="middle" fill="#444444">FL</text>
<text transform="translate(630.3 142.1) scale(1 1.1)" class="ab" text-anchor="middle" fill="#ffffff">ME</text>
<text transform="translate(630.3 151.7) scale(1 1.06)" class="rt" text-anchor="middle" fill="#ffffff">7.15%</text>
<text transform="translate(116.7 418.3) scale(1 1.1)" class="ab" text-anchor="middle" fill="#444444">AK</text>
<text transform="translate(221.1 448.9) scale(1 1.1)" class="ab" text-anchor="middle" fill="#444444">HI</text>
<text transform="translate(221.1 459.4) scale(1 1.06)" class="rt" text-anchor="middle" fill="#555555">11.00%</text>
<text transform="translate(486.6 130.0) scale(1 1.1)" class="ab" text-anchor="end" fill="#444444">VT</text>
<text transform="translate(486.4 140.0) scale(1 1.06)" class="rt" text-anchor="end" fill="#555555">8.75%</text>
<rect x="494.0" y="120.0" width="24.6" height="24.6" fill="#ef4526"/>
<text transform="translate(561.6 130.0) scale(1 1.1)" class="ab" text-anchor="end" fill="#444444">NH</text>
<text x="561.6" y="127.9" class="st" fill="#444444">**</text>
<text transform="translate(561.4 140.0) scale(1 1.06)" class="rt" text-anchor="end" fill="#555555">3.00%</text>
<rect x="577.8" y="120.0" width="24.6" height="24.6" fill="#fed87a"/>
<text transform="translate(637.0 245.0) scale(1 1.1)" class="ab" text-anchor="end" fill="#444444">MA</text>
<text transform="translate(636.8 255.0) scale(1 1.06)" class="rt" text-anchor="end" fill="#555555">9.00%</text>
<rect x="646.0" y="235.0" width="24.6" height="24.6" fill="#ef4526"/>
<text transform="translate(637.0 276.6) scale(1 1.1)" class="ab" text-anchor="end" fill="#444444">RI</text>
<text transform="translate(636.8 286.6) scale(1 1.06)" class="rt" text-anchor="end" fill="#555555">5.99%</text>
<rect x="646.0" y="266.6" width="24.6" height="24.6" fill="#fd9a3f"/>
<text transform="translate(637.0 308.2) scale(1 1.1)" class="ab" text-anchor="end" fill="#444444">CT</text>
<text transform="translate(636.8 318.2) scale(1 1.06)" class="rt" text-anchor="end" fill="#555555">6.99%</text>
<rect x="646.0" y="298.2" width="24.6" height="24.6" fill="#f9742f"/>
<text transform="translate(637.0 339.8) scale(1 1.1)" class="ab" text-anchor="end" fill="#444444">NJ</text>
<text transform="translate(636.8 349.8) scale(1 1.06)" class="rt" text-anchor="end" fill="#555555">10.75%</text>
<rect x="646.0" y="329.8" width="24.6" height="24.6" fill="#b4002a"/>
<text transform="translate(637.0 371.4) scale(1 1.1)" class="ab" text-anchor="end" fill="#444444">DE</text>
<text transform="translate(636.8 381.4) scale(1 1.06)" class="rt" text-anchor="end" fill="#555555">6.60%</text>
<rect x="646.0" y="361.4" width="24.6" height="24.6" fill="#fd9a3f"/>
<text transform="translate(637.0 403.0) scale(1 1.1)" class="ab" text-anchor="end" fill="#444444">MD</text>
<text transform="translate(636.8 413.0) scale(1 1.06)" class="rt" text-anchor="end" fill="#555555">5.75%</text>
<rect x="646.0" y="393.0" width="24.6" height="24.6" fill="#fd9a3f"/>
<text transform="translate(637.0 434.6) scale(1 1.1)" class="ab" text-anchor="end" fill="#444444">DC</text>
<text transform="translate(636.8 444.6) scale(1 1.06)" class="rt" text-anchor="end" fill="#555555">10.75%</text>
<rect x="646.0" y="424.6" width="24.6" height="24.6" fill="#b4002a"/>
<rect x="495.9" y="506.3" width="187.2" height="19.2" fill="none" stroke="#f1f1f1" stroke-width="1"/>
<rect x="496.4" y="506.8" width="17.8" height="18.2" fill="#fffcc6"/>
<rect x="515.0" y="506.8" width="17.8" height="18.2" fill="#feeb9e"/>
<rect x="533.6" y="506.8" width="17.8" height="18.2" fill="#fed87a"/>
<rect x="552.2" y="506.8" width="17.8" height="18.2" fill="#feb954"/>
<rect x="570.8" y="506.8" width="17.8" height="18.2" fill="#fd9a3f"/>
<rect x="589.4" y="506.8" width="17.8" height="18.2" fill="#f9742f"/>
<rect x="608.0" y="506.8" width="17.8" height="18.2" fill="#ef4526"/>
<rect x="626.6" y="506.8" width="17.8" height="18.2" fill="#dc1a23"/>
<rect x="645.2" y="506.8" width="17.8" height="18.2" fill="#b4002a"/>
<rect x="663.8" y="506.8" width="17.8" height="18.2" fill="#7d0023"/>
<text class="note" x="35" y="492.8">(*) State has a flat income tax.</text>
<text class="note" x="35" y="502.8">(**) State only taxes interest and dividends income.</text>
<text class="note" x="35" y="512.8">(***) State only taxes capital gains income.</text>
<text class="note" x="35" y="522.8">Note: Map shows top marginal rates: the maximum statutory rate in each state. This map</text>
<text class="note" x="35" y="532.8">does not show effective tax rates, which would include the effects of various tax preferences.</text>
<text class="note" x="35" y="542.8">Local income taxes are not included.</text>
<text class="note" x="35" y="552.8">Sources: Tax Foundation; state tax statutes, forms, and instructions.</text>
<text class="lt" x="588.8" y="485" text-anchor="middle" textLength="134.4" lengthAdjust="spacingAndGlyphs">Top Marginal Individual</text>
<text class="lt" x="590.2" y="499.9" text-anchor="middle" textLength="96" lengthAdjust="spacingAndGlyphs">Income Tax Rate</text>
<text class="lh" x="492.3" y="537.9">Lower</text>
<text class="lh" x="691.2" y="537.9" text-anchor="end">Higher</text>
<rect x="34" y="561.5" width="661.5" height="2" fill="#2f5b8c"/>
<defs><clipPath id="lc"><circle cx="43.7" cy="580.3" r="9.5"/></clipPath></defs>
<circle cx="43.7" cy="580.3" r="9.5" fill="#1f4e86"/>
<g clip-path="url(#lc)" fill="#ffffff">
<rect x="39.35" y="576.3" width="0.6" height="1.6"/>
<path d="M37.1,581.6 C37.1,579.4 38.3,577.9 39.65,577.9 C41.0,577.9 42.2,579.4 42.2,581.6 Z"/>
<rect x="36.4" y="581.4" width="6.5" height="1.7" opacity="0.9"/>
<path d="M33,583.2 L45,583.2 L52,585.6 L52,592 L33,592 Z" opacity="0.85"/>
<rect x="33" y="584.6" width="20" height="0.5" fill="#1f4e86" opacity="0.5"/>
<rect x="33" y="586.4" width="20" height="0.5" fill="#1f4e86" opacity="0.5"/>
<rect x="33" y="588.2" width="20" height="0.5" fill="#1f4e86" opacity="0.5"/>
</g>
<text x="55.8" y="585" font-family="Liberation Sans" font-size="13.8" fill="#1f4e86" stroke="#1f4e86" stroke-width="0.35" textLength="106.5" lengthAdjust="spacingAndGlyphs">TAX FOUNDATION</text>
<text x="695" y="585.1" font-family="Liberation Sans" font-size="14" fill="#2f5b8c" text-anchor="end" textLength="96" lengthAdjust="spacingAndGlyphs">@TaxFoundation</text>
</svg>
</body></html>
